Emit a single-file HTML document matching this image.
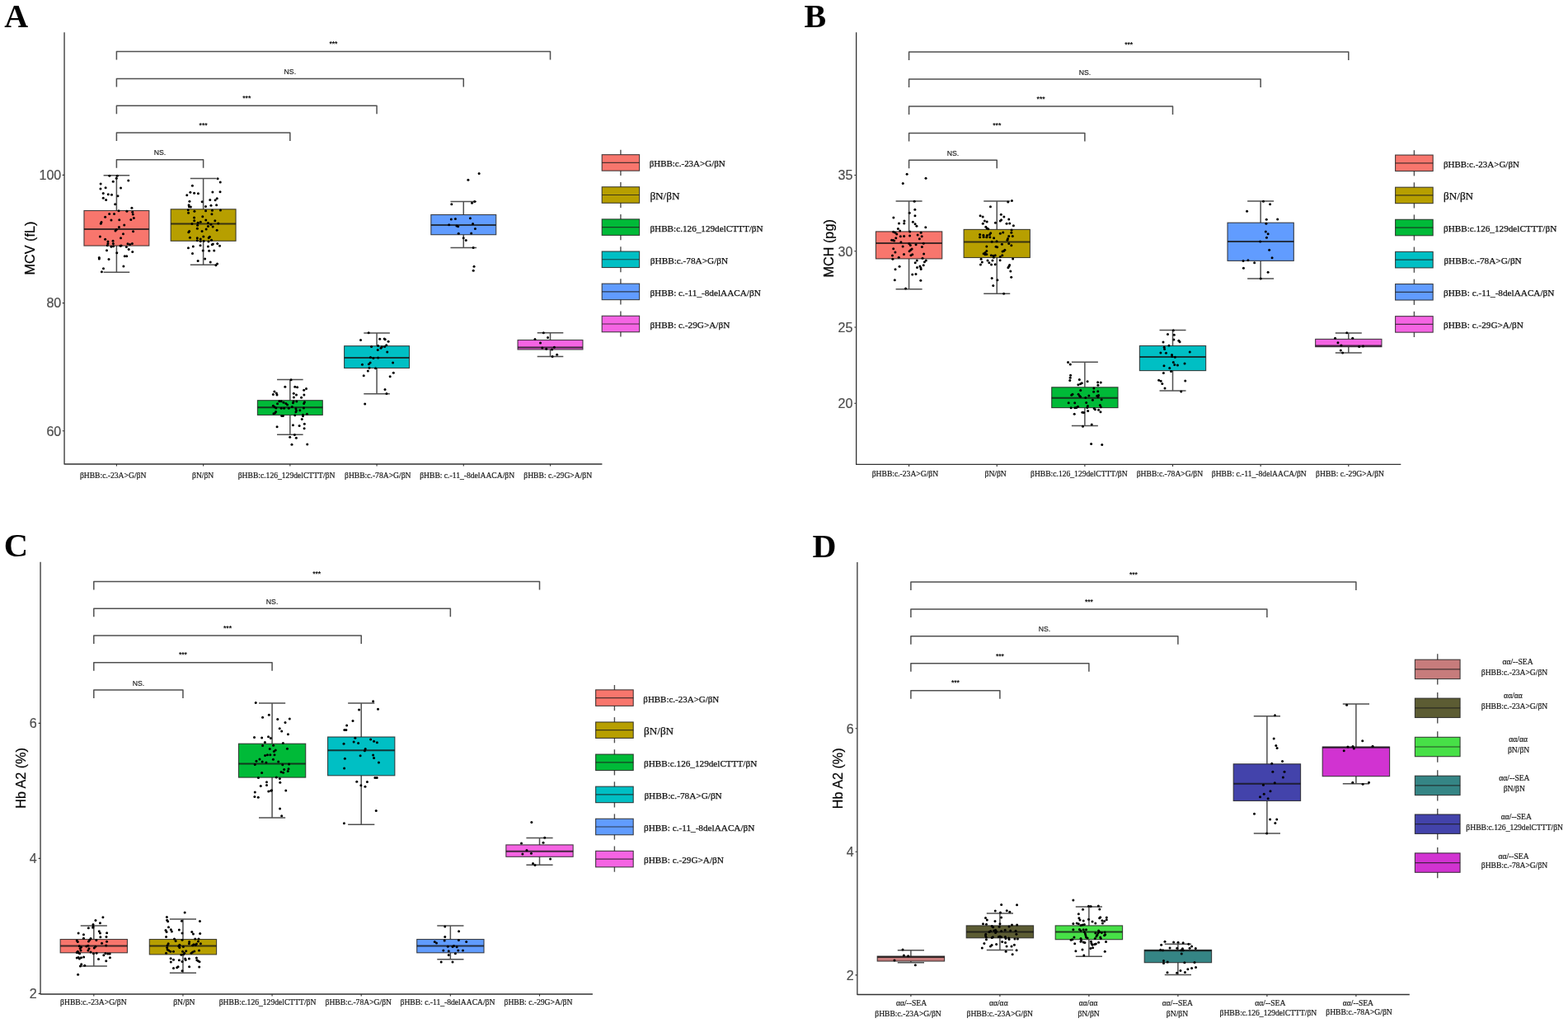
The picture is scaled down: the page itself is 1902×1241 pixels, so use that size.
<!DOCTYPE html>
<html lang="en">
<head>
<meta charset="utf-8">
<title>Figure: MCV, MCH and Hb A2 by genotype</title>
<style>
html,body{margin:0;padding:0;background:#fff}
body{width:1902px;height:1241px}
svg{display:block}
.ser{font-family:"Liberation Serif","DejaVu Serif",serif}
.san{font-family:"Liberation Sans","DejaVu Sans",sans-serif}
</style>
</head>
<body>
<svg width="1902" height="1241" viewBox="0 0 1902 1241" role="img" aria-label="Box plots of MCV, MCH and Hb A2 across genotypes">
<rect width="1902" height="1241" fill="#fff"/>
<path d="M78.05 39.2V563H730.4" stroke="#333333" stroke-width="1.3" stroke-linejoin="round" fill="none"/>
<text x="74.3" y="218.2" class="san" font-size="16.1" text-anchor="end" fill="#4d4d4d" stroke="#4d4d4d" stroke-width="0.2">100</text>
<text x="74.3" y="373.4" class="san" font-size="16.1" text-anchor="end" fill="#4d4d4d" stroke="#4d4d4d" stroke-width="0.2">80</text>
<text x="74.3" y="528.5" class="san" font-size="16.1" text-anchor="end" fill="#4d4d4d" stroke="#4d4d4d" stroke-width="0.2">60</text>
<path d="M75.65 212.4H78.05M75.65 367.6H78.05M75.65 522.7H78.05M141.4 563V565.6M246.62 563V565.6M351.84 563V565.6M457.06 563V565.6M562.28 563V565.6M667.5 563V565.6" stroke="#333333" stroke-width="1.1" fill="none"/>
<text transform="translate(42.3 301.1) rotate(-90)" class="san" font-size="16.2" text-anchor="middle" fill="#000" stroke="#000" stroke-width="0.2">MCV (fL)</text>
<text x="5.3" y="32.7" class="ser" font-size="40" text-anchor="start" font-weight="bold" fill="#000">A</text>
<path d="M141.4 212.7V255.5M141.4 298.1V330.2M125.6 212.7H157.2M125.6 330.2H157.2" stroke="#505050" stroke-width="1.5" fill="none"/>
<rect x="101.95" y="255.5" width="78.9" height="42.6" fill="#F8766D" stroke="#1e1e1e" stroke-opacity="0.82" stroke-width="1.1"/>
<path d="M101.95 278.1H180.85" stroke="#161616" stroke-opacity="0.8" stroke-width="2" fill="none"/>
<path d="M246.62 216.5V253.8M246.62 292.3V321.3M230.82 216.5H262.42M230.82 321.3H262.42" stroke="#505050" stroke-width="1.5" fill="none"/>
<rect x="207.17" y="253.8" width="78.9" height="38.5" fill="#B79F00" stroke="#1e1e1e" stroke-opacity="0.82" stroke-width="1.1"/>
<path d="M207.17 271.6H286.07" stroke="#161616" stroke-opacity="0.8" stroke-width="2" fill="none"/>
<path d="M351.84 460.5V485.7M351.84 503.5V527.2M336.04 460.5H367.64M336.04 527.2H367.64" stroke="#505050" stroke-width="1.5" fill="none"/>
<rect x="312.39" y="485.7" width="78.9" height="17.8" fill="#00BA38" stroke="#1e1e1e" stroke-opacity="0.82" stroke-width="1.1"/>
<path d="M312.39 494.2H391.29" stroke="#161616" stroke-opacity="0.8" stroke-width="2" fill="none"/>
<path d="M457.06 403.9V419.7M457.06 446.5V477.7M441.26 403.9H472.86M441.26 477.7H472.86" stroke="#505050" stroke-width="1.5" fill="none"/>
<rect x="417.61" y="419.7" width="78.9" height="26.8" fill="#00BFC4" stroke="#1e1e1e" stroke-opacity="0.82" stroke-width="1.1"/>
<path d="M417.61 433.9H496.51" stroke="#161616" stroke-opacity="0.8" stroke-width="2" fill="none"/>
<path d="M562.28 244.5V260.5M562.28 284.7V300.4M546.48 244.5H578.08M546.48 300.4H578.08" stroke="#505050" stroke-width="1.5" fill="none"/>
<rect x="522.83" y="260.5" width="78.9" height="24.2" fill="#619CFF" stroke="#1e1e1e" stroke-opacity="0.82" stroke-width="1.1"/>
<path d="M522.83 273H601.73" stroke="#161616" stroke-opacity="0.8" stroke-width="2" fill="none"/>
<path d="M667.5 403.8V412.5M667.5 424V432.5M651.7 403.8H683.3M651.7 432.5H683.3" stroke="#505050" stroke-width="1.5" fill="none"/>
<rect x="628.05" y="412.5" width="78.9" height="11.5" fill="#F564E3" stroke="#1e1e1e" stroke-opacity="0.82" stroke-width="1.1"/>
<path d="M628.05 421.5H706.95" stroke="#161616" stroke-opacity="0.8" stroke-width="2" fill="none"/>
<g fill="#000"><circle cx="132.85" cy="213.36" r="1.5"/><circle cx="142.32" cy="213.15" r="1.5"/><circle cx="141.27" cy="216.3" r="1.5"/><circle cx="155.78" cy="219.04" r="1.5"/><circle cx="137.27" cy="220.2" r="1.5"/><circle cx="122.13" cy="222.93" r="1.5"/><circle cx="128.12" cy="227.77" r="1.5"/><circle cx="146.52" cy="227.98" r="1.5"/><circle cx="121.92" cy="229.03" r="1.5"/><circle cx="125.28" cy="234.39" r="1.5"/><circle cx="131.28" cy="235.86" r="1.5"/><circle cx="135.48" cy="236.28" r="1.5"/><circle cx="142.95" cy="237.65" r="1.5"/><circle cx="125.28" cy="240.17" r="1.5"/><circle cx="128.65" cy="242.49" r="1.5"/><circle cx="139.69" cy="247.85" r="1.5"/><circle cx="159.88" cy="252.27" r="1.5"/><circle cx="144" cy="255.63" r="1.5"/><circle cx="153.89" cy="256.26" r="1.5"/><circle cx="160.72" cy="257.31" r="1.5"/><circle cx="161.25" cy="259.94" r="1.5"/><circle cx="132.64" cy="259.52" r="1.5"/><circle cx="138.53" cy="259.52" r="1.5"/><circle cx="127.6" cy="263.2" r="1.5"/><circle cx="162.3" cy="264.57" r="1.5"/><circle cx="158.83" cy="266.46" r="1.5"/><circle cx="134.96" cy="266.99" r="1.5"/><circle cx="144.74" cy="266.67" r="1.5"/><circle cx="122.97" cy="269.51" r="1.5"/><circle cx="122.34" cy="271.19" r="1.5"/><circle cx="150.73" cy="272.88" r="1.5"/><circle cx="144.42" cy="275.4" r="1.5"/><circle cx="141.27" cy="278.56" r="1.5"/><circle cx="140.01" cy="279.92" r="1.5"/><circle cx="161.56" cy="280.87" r="1.5"/><circle cx="149.47" cy="283.71" r="1.5"/><circle cx="121.39" cy="286.97" r="1.5"/><circle cx="146.52" cy="288.86" r="1.5"/><circle cx="127.6" cy="290.23" r="1.5"/><circle cx="130.96" cy="292.96" r="1.5"/><circle cx="137.06" cy="292.23" r="1.5"/><circle cx="130.96" cy="295.38" r="1.5"/><circle cx="137.38" cy="295.59" r="1.5"/><circle cx="154.94" cy="295.8" r="1.5"/><circle cx="157.57" cy="296.43" r="1.5"/><circle cx="160.4" cy="295.48" r="1.5"/><circle cx="130.23" cy="297.69" r="1.5"/><circle cx="134.96" cy="299.17" r="1.5"/><circle cx="137.59" cy="298.74" r="1.5"/><circle cx="146" cy="298.32" r="1.5"/><circle cx="147.05" cy="298.11" r="1.5"/><circle cx="153.36" cy="299.38" r="1.5"/><circle cx="156.2" cy="302.53" r="1.5"/><circle cx="129.49" cy="303.79" r="1.5"/><circle cx="160.72" cy="305.58" r="1.5"/><circle cx="141.79" cy="306.74" r="1.5"/><circle cx="151.26" cy="310.63" r="1.5"/><circle cx="153.68" cy="310.63" r="1.5"/><circle cx="120.34" cy="312.52" r="1.5"/><circle cx="120.34" cy="314.1" r="1.5"/><circle cx="132.01" cy="314.62" r="1.5"/><circle cx="149.89" cy="323.03" r="1.5"/><circle cx="125.49" cy="325.87" r="1.5"/><circle cx="123.39" cy="329.87" r="1.5"/></g>
<g fill="#000"><circle cx="264.09" cy="216.83" r="1.5"/><circle cx="267.24" cy="220.93" r="1.5"/><circle cx="233.38" cy="225.35" r="1.5"/><circle cx="230.86" cy="233.13" r="1.5"/><circle cx="235.59" cy="234.18" r="1.5"/><circle cx="240.43" cy="234.71" r="1.5"/><circle cx="257.88" cy="233.02" r="1.5"/><circle cx="267.03" cy="232.81" r="1.5"/><circle cx="226.76" cy="236.81" r="1.5"/><circle cx="263.24" cy="240.7" r="1.5"/><circle cx="261.14" cy="242.7" r="1.5"/><circle cx="254.73" cy="242.38" r="1.5"/><circle cx="229.91" cy="244.28" r="1.5"/><circle cx="245.16" cy="244.8" r="1.5"/><circle cx="229.07" cy="248.8" r="1.5"/><circle cx="229.38" cy="250.69" r="1.5"/><circle cx="231.38" cy="251.01" r="1.5"/><circle cx="249.47" cy="250.58" r="1.5"/><circle cx="255.99" cy="249.22" r="1.5"/><circle cx="262.61" cy="248.8" r="1.5"/><circle cx="228.23" cy="254.79" r="1.5"/><circle cx="235.9" cy="256.26" r="1.5"/><circle cx="249.57" cy="255.84" r="1.5"/><circle cx="257.46" cy="255.21" r="1.5"/><circle cx="267.45" cy="255.11" r="1.5"/><circle cx="228.54" cy="258.26" r="1.5"/><circle cx="256.93" cy="259.63" r="1.5"/><circle cx="245.79" cy="262.78" r="1.5"/><circle cx="235.59" cy="264.04" r="1.5"/><circle cx="249.78" cy="266.88" r="1.5"/><circle cx="260.83" cy="267.72" r="1.5"/><circle cx="235.69" cy="267.83" r="1.5"/><circle cx="243.26" cy="269.3" r="1.5"/><circle cx="240.11" cy="270.14" r="1.5"/><circle cx="232.96" cy="271.51" r="1.5"/><circle cx="252.41" cy="270.56" r="1.5"/><circle cx="264.82" cy="270.98" r="1.5"/><circle cx="255.88" cy="272.25" r="1.5"/><circle cx="239.58" cy="273.3" r="1.5"/><circle cx="252.41" cy="274.56" r="1.5"/><circle cx="258.2" cy="275.09" r="1.5"/><circle cx="239.37" cy="277.19" r="1.5"/><circle cx="250.1" cy="277.92" r="1.5"/><circle cx="263.14" cy="279.29" r="1.5"/><circle cx="229.6" cy="280.45" r="1.5"/><circle cx="228.75" cy="281.71" r="1.5"/><circle cx="245.05" cy="280.55" r="1.5"/><circle cx="246.84" cy="287.07" r="1.5"/><circle cx="239.27" cy="288.65" r="1.5"/><circle cx="230.44" cy="288.23" r="1.5"/><circle cx="254.31" cy="287.18" r="1.5"/><circle cx="253.25" cy="288.54" r="1.5"/><circle cx="239.27" cy="291.7" r="1.5"/><circle cx="243.26" cy="290.12" r="1.5"/><circle cx="256.51" cy="291.17" r="1.5"/><circle cx="243.26" cy="292.86" r="1.5"/><circle cx="247.16" cy="292.54" r="1.5"/><circle cx="252.94" cy="293.07" r="1.5"/><circle cx="263.77" cy="295.38" r="1.5"/><circle cx="258.3" cy="295.91" r="1.5"/><circle cx="257.25" cy="296.75" r="1.5"/><circle cx="243.05" cy="297.69" r="1.5"/><circle cx="266.5" cy="298.32" r="1.5"/><circle cx="234.33" cy="299.06" r="1.5"/><circle cx="252.41" cy="299.06" r="1.5"/><circle cx="228.44" cy="300.74" r="1.5"/><circle cx="246.21" cy="304" r="1.5"/><circle cx="253.68" cy="304.32" r="1.5"/><circle cx="259.77" cy="304" r="1.5"/><circle cx="233.49" cy="307.58" r="1.5"/><circle cx="248.63" cy="313.89" r="1.5"/><circle cx="240.11" cy="316.62" r="1.5"/><circle cx="255.25" cy="318.09" r="1.5"/><circle cx="263.56" cy="319.88" r="1.5"/><circle cx="261.88" cy="321.67" r="1.5"/></g>
<g fill="#000"><circle cx="353.05" cy="460.75" r="1.5"/><circle cx="345.83" cy="469.23" r="1.5"/><circle cx="357.75" cy="469.34" r="1.5"/><circle cx="360.61" cy="469.8" r="1.5"/><circle cx="371.5" cy="471.41" r="1.5"/><circle cx="368.64" cy="473.13" r="1.5"/><circle cx="332.87" cy="475.07" r="1.5"/><circle cx="331.38" cy="478.4" r="1.5"/><circle cx="335.4" cy="477.02" r="1.5"/><circle cx="335.97" cy="479.09" r="1.5"/><circle cx="356.26" cy="477.37" r="1.5"/><circle cx="359.47" cy="479.09" r="1.5"/><circle cx="368.86" cy="479.09" r="1.5"/><circle cx="356.37" cy="482.07" r="1.5"/><circle cx="365.54" cy="482.18" r="1.5"/><circle cx="338.83" cy="486.76" r="1.5"/><circle cx="341.13" cy="486.76" r="1.5"/><circle cx="343.99" cy="488.25" r="1.5"/><circle cx="336.54" cy="489.63" r="1.5"/><circle cx="346.86" cy="489.4" r="1.5"/><circle cx="348.58" cy="490.89" r="1.5"/><circle cx="356.03" cy="487.11" r="1.5"/><circle cx="359.81" cy="487.11" r="1.5"/><circle cx="355.45" cy="488.83" r="1.5"/><circle cx="369.44" cy="487.68" r="1.5"/><circle cx="368.64" cy="489.4" r="1.5"/><circle cx="331.38" cy="492.27" r="1.5"/><circle cx="333.1" cy="493.76" r="1.5"/><circle cx="334.82" cy="494.9" r="1.5"/><circle cx="341.13" cy="495.36" r="1.5"/><circle cx="344.57" cy="495.13" r="1.5"/><circle cx="350.3" cy="495.13" r="1.5"/><circle cx="354.31" cy="493.41" r="1.5"/><circle cx="358.89" cy="495.7" r="1.5"/><circle cx="368.41" cy="494.9" r="1.5"/><circle cx="359.47" cy="498" r="1.5"/><circle cx="363.82" cy="497.77" r="1.5"/><circle cx="358.89" cy="499.72" r="1.5"/><circle cx="334.59" cy="499.49" r="1.5"/><circle cx="333.68" cy="501.09" r="1.5"/><circle cx="331.96" cy="501.78" r="1.5"/><circle cx="357.75" cy="503.73" r="1.5"/><circle cx="341.7" cy="504.53" r="1.5"/><circle cx="343.42" cy="504.53" r="1.5"/><circle cx="367.49" cy="503.15" r="1.5"/><circle cx="367.49" cy="504.87" r="1.5"/><circle cx="372.42" cy="502.24" r="1.5"/><circle cx="366.23" cy="508.43" r="1.5"/><circle cx="369.32" cy="514.27" r="1.5"/><circle cx="355.45" cy="515.76" r="1.5"/><circle cx="363.13" cy="516.45" r="1.5"/><circle cx="336.08" cy="517.83" r="1.5"/><circle cx="369.09" cy="519.66" r="1.5"/><circle cx="357.4" cy="527.45" r="1.5"/><circle cx="351.67" cy="530.2" r="1.5"/><circle cx="359.35" cy="531.35" r="1.5"/><circle cx="353.96" cy="539.26" r="1.5"/><circle cx="372.76" cy="539.03" r="1.5"/></g>
<g fill="#000"><circle cx="447.15" cy="403.67" r="1.5"/><circle cx="437.52" cy="412.49" r="1.5"/><circle cx="460.67" cy="411.35" r="1.5"/><circle cx="466.17" cy="411.12" r="1.5"/><circle cx="467.21" cy="411.81" r="1.5"/><circle cx="471.1" cy="414.21" r="1.5"/><circle cx="450.59" cy="420.52" r="1.5"/><circle cx="458.61" cy="419.48" r="1.5"/><circle cx="468.7" cy="418.68" r="1.5"/><circle cx="466.63" cy="420.4" r="1.5"/><circle cx="463.19" cy="420.86" r="1.5"/><circle cx="462.05" cy="422.35" r="1.5"/><circle cx="458.26" cy="424.41" r="1.5"/><circle cx="469.73" cy="427.05" r="1.5"/><circle cx="449.44" cy="433.47" r="1.5"/><circle cx="452.88" cy="434.38" r="1.5"/><circle cx="458.61" cy="433.93" r="1.5"/><circle cx="476.6" cy="439.89" r="1.5"/><circle cx="449.1" cy="440.12" r="1.5"/><circle cx="447.38" cy="441.83" r="1.5"/><circle cx="439.47" cy="442.29" r="1.5"/><circle cx="447.95" cy="446.3" r="1.5"/><circle cx="455.51" cy="446.65" r="1.5"/><circle cx="446.34" cy="449.97" r="1.5"/><circle cx="477.29" cy="452.15" r="1.5"/><circle cx="441.19" cy="455.82" r="1.5"/><circle cx="473.17" cy="456.74" r="1.5"/><circle cx="466.98" cy="472.44" r="1.5"/><circle cx="468.92" cy="477.6" r="1.5"/><circle cx="442.68" cy="489.97" r="1.5"/></g>
<g fill="#000"><circle cx="581.15" cy="210.62" r="1.5"/><circle cx="567.9" cy="218.3" r="1.5"/><circle cx="575.68" cy="244.38" r="1.5"/><circle cx="572.52" cy="246.16" r="1.5"/><circle cx="547.81" cy="247.64" r="1.5"/><circle cx="547.29" cy="265.93" r="1.5"/><circle cx="552.44" cy="265.41" r="1.5"/><circle cx="570.42" cy="264.67" r="1.5"/><circle cx="573.58" cy="271.61" r="1.5"/><circle cx="544.66" cy="272.66" r="1.5"/><circle cx="553.91" cy="274.03" r="1.5"/><circle cx="555.7" cy="274.77" r="1.5"/><circle cx="576.41" cy="277.39" r="1.5"/><circle cx="556.23" cy="283.28" r="1.5"/><circle cx="571.68" cy="282.97" r="1.5"/><circle cx="562.22" cy="288.75" r="1.5"/><circle cx="565.27" cy="291.59" r="1.5"/><circle cx="574.1" cy="300.53" r="1.5"/><circle cx="575.05" cy="323.35" r="1.5"/><circle cx="574.21" cy="328.18" r="1.5"/></g>
<g fill="#000"><circle cx="659.31" cy="403.78" r="1.5"/><circle cx="664.5" cy="409.6" r="1.5"/><circle cx="648.94" cy="411.38" r="1.5"/><circle cx="655.52" cy="416.06" r="1.5"/><circle cx="657.8" cy="421.88" r="1.5"/><circle cx="662.73" cy="423.14" r="1.5"/><circle cx="669.56" cy="423.9" r="1.5"/><circle cx="672.35" cy="421.24" r="1.5"/><circle cx="675.64" cy="430.23" r="1.5"/><circle cx="670.07" cy="432.5" r="1.5"/></g>
<path d="M141.4 203.8V193.8H246.62V203.8" stroke="#505050" stroke-width="1.5" stroke-linejoin="round" fill="none"/>
<text x="194.01" y="188.3" class="san" font-size="8.7" text-anchor="middle" fill="#1a1a1a" stroke="#1a1a1a" stroke-width="0.15">NS.</text>
<path d="M141.4 171V161H351.84V171" stroke="#505050" stroke-width="1.5" stroke-linejoin="round" fill="none"/>
<text x="246.62" y="154.7" class="san" font-size="8.6" text-anchor="middle" font-weight="bold" fill="#111">***</text>
<path d="M141.4 138.3V128.3H457.06V138.3" stroke="#505050" stroke-width="1.5" stroke-linejoin="round" fill="none"/>
<text x="299.23" y="122" class="san" font-size="8.6" text-anchor="middle" font-weight="bold" fill="#111">***</text>
<path d="M141.4 105.5V95.5H562.28V105.5" stroke="#505050" stroke-width="1.5" stroke-linejoin="round" fill="none"/>
<text x="351.84" y="90" class="san" font-size="8.7" text-anchor="middle" fill="#1a1a1a" stroke="#1a1a1a" stroke-width="0.15">NS.</text>
<path d="M141.4 72.6V62.6H667.5V72.6" stroke="#505050" stroke-width="1.5" stroke-linejoin="round" fill="none"/>
<text x="404.45" y="56.3" class="san" font-size="8.6" text-anchor="middle" font-weight="bold" fill="#111">***</text>
<text x="96.9" y="580.2" class="ser" font-size="9.6" text-anchor="start" fill="#1c1c1c" stroke="#1c1c1c" stroke-width="0.22">βHBB:c.-23A&gt;G/βN</text>
<text x="233" y="580.2" class="ser" font-size="9.6" text-anchor="start" fill="#1c1c1c" stroke="#1c1c1c" stroke-width="0.22">βN/βN</text>
<text x="288.7" y="580.2" class="ser" font-size="9.6" text-anchor="start" fill="#1c1c1c" stroke="#1c1c1c" stroke-width="0.22">βHBB:c.126_129delCTTT/βN</text>
<text x="418" y="580.2" class="ser" font-size="9.6" text-anchor="start" fill="#1c1c1c" stroke="#1c1c1c" stroke-width="0.22">βHBB:c.-78A&gt;G/βN</text>
<text x="509.2" y="580.2" class="ser" font-size="9.6" text-anchor="start" fill="#1c1c1c" stroke="#1c1c1c" stroke-width="0.22">βHBB: c.-11_-8delAACA/βN</text>
<text x="635.3" y="580.2" class="ser" font-size="9.6" text-anchor="start" fill="#1c1c1c" stroke="#1c1c1c" stroke-width="0.22">βHBB: c.-29G&gt;A/βN</text>
<path d="M752.9 181.8V213" stroke="#505050" stroke-width="1.4" fill="none"/>
<rect x="730.2" y="187.65" width="45.4" height="19.5" fill="#F8766D" stroke="#1e1e1e" stroke-opacity="0.82" stroke-width="1.1"/>
<path d="M730.2 197.4H775.6" stroke="#1e1e1e" stroke-opacity="0.78" stroke-width="1.2" fill="none"/>
<text x="787.7" y="202.4" class="ser" font-size="10.97" text-anchor="start" fill="#111" stroke="#111" stroke-width="0.25">βHBB:c.-23A&gt;G/βN</text>
<path d="M752.9 220.92V252.12" stroke="#505050" stroke-width="1.4" fill="none"/>
<rect x="730.2" y="226.77" width="45.4" height="19.5" fill="#B79F00" stroke="#1e1e1e" stroke-opacity="0.82" stroke-width="1.1"/>
<path d="M730.2 236.52H775.6" stroke="#1e1e1e" stroke-opacity="0.78" stroke-width="1.2" fill="none"/>
<text x="788.4" y="241.52" class="ser" font-size="13.2" text-anchor="start" fill="#111" stroke="#111" stroke-width="0.25">βN/βN</text>
<path d="M752.9 260.04V291.24" stroke="#505050" stroke-width="1.4" fill="none"/>
<rect x="730.2" y="265.89" width="45.4" height="19.5" fill="#00BA38" stroke="#1e1e1e" stroke-opacity="0.82" stroke-width="1.1"/>
<path d="M730.2 275.64H775.6" stroke="#1e1e1e" stroke-opacity="0.78" stroke-width="1.2" fill="none"/>
<text x="788.4" y="280.64" class="ser" font-size="11.2" text-anchor="start" fill="#111" stroke="#111" stroke-width="0.25">βHBB:c.126_129delCTTT/βN</text>
<path d="M752.9 299.16V330.36" stroke="#505050" stroke-width="1.4" fill="none"/>
<rect x="730.2" y="305.01" width="45.4" height="19.5" fill="#00BFC4" stroke="#1e1e1e" stroke-opacity="0.82" stroke-width="1.1"/>
<path d="M730.2 314.76H775.6" stroke="#1e1e1e" stroke-opacity="0.78" stroke-width="1.2" fill="none"/>
<text x="788.8" y="319.76" class="ser" font-size="11.25" text-anchor="start" fill="#111" stroke="#111" stroke-width="0.25">βHBB:c.-78A&gt;G/βN</text>
<path d="M752.9 338.28V369.48" stroke="#505050" stroke-width="1.4" fill="none"/>
<rect x="730.2" y="344.13" width="45.4" height="19.5" fill="#619CFF" stroke="#1e1e1e" stroke-opacity="0.82" stroke-width="1.1"/>
<path d="M730.2 353.88H775.6" stroke="#1e1e1e" stroke-opacity="0.78" stroke-width="1.2" fill="none"/>
<text x="788.4" y="358.88" class="ser" font-size="11.22" text-anchor="start" fill="#111" stroke="#111" stroke-width="0.25">βHBB: c.-11_-8delAACA/βN</text>
<path d="M752.9 377.4V408.6" stroke="#505050" stroke-width="1.4" fill="none"/>
<rect x="730.2" y="383.25" width="45.4" height="19.5" fill="#F564E3" stroke="#1e1e1e" stroke-opacity="0.82" stroke-width="1.1"/>
<path d="M730.2 393H775.6" stroke="#1e1e1e" stroke-opacity="0.78" stroke-width="1.2" fill="none"/>
<text x="788.4" y="398" class="ser" font-size="11.23" text-anchor="start" fill="#111" stroke="#111" stroke-width="0.25">βHBB: c.-29G&gt;A/βN</text>
<path d="M1038.65 39.2V563.4H1699.3" stroke="#333333" stroke-width="1.3" stroke-linejoin="round" fill="none"/>
<text x="1034.35" y="218.3" class="san" font-size="16.1" text-anchor="end" fill="#4d4d4d" stroke="#4d4d4d" stroke-width="0.2">35</text>
<text x="1034.35" y="310.5" class="san" font-size="16.1" text-anchor="end" fill="#4d4d4d" stroke="#4d4d4d" stroke-width="0.2">30</text>
<text x="1034.35" y="402.8" class="san" font-size="16.1" text-anchor="end" fill="#4d4d4d" stroke="#4d4d4d" stroke-width="0.2">25</text>
<text x="1034.35" y="495.1" class="san" font-size="16.1" text-anchor="end" fill="#4d4d4d" stroke="#4d4d4d" stroke-width="0.2">20</text>
<path d="M1036.25 212.5H1038.65M1036.25 304.7H1038.65M1036.25 397H1038.65M1036.25 489.3H1038.65M1102.6 563.4V566M1209.24 563.4V566M1315.88 563.4V566M1422.52 563.4V566M1529.16 563.4V566M1635.8 563.4V566" stroke="#333333" stroke-width="1.1" fill="none"/>
<text transform="translate(1011.4 301.3) rotate(-90)" class="san" font-size="16.2" text-anchor="middle" fill="#000" stroke="#000" stroke-width="0.2">MCH (pg)</text>
<text x="975.6" y="33.2" class="ser" font-size="40" text-anchor="start" font-weight="bold" fill="#000">B</text>
<path d="M1102.6 244V280.9M1102.6 313.9V350.8M1086.6 244H1118.6M1086.6 350.8H1118.6" stroke="#505050" stroke-width="1.5" fill="none"/>
<rect x="1062.45" y="280.9" width="80.3" height="33" fill="#F8766D" stroke="#1e1e1e" stroke-opacity="0.82" stroke-width="1.1"/>
<path d="M1062.45 295.1H1142.75" stroke="#161616" stroke-opacity="0.8" stroke-width="2" fill="none"/>
<path d="M1209.24 244V278.4M1209.24 312.5V356.3M1193.24 244H1225.24M1193.24 356.3H1225.24" stroke="#505050" stroke-width="1.5" fill="none"/>
<rect x="1169.09" y="278.4" width="80.3" height="34.1" fill="#B79F00" stroke="#1e1e1e" stroke-opacity="0.82" stroke-width="1.1"/>
<path d="M1169.09 293.4H1249.39" stroke="#161616" stroke-opacity="0.8" stroke-width="2" fill="none"/>
<path d="M1315.88 439.3V469.8M1315.88 494.6V516.4M1299.88 439.3H1331.88M1299.88 516.4H1331.88" stroke="#505050" stroke-width="1.5" fill="none"/>
<rect x="1275.73" y="469.8" width="80.3" height="24.8" fill="#00BA38" stroke="#1e1e1e" stroke-opacity="0.82" stroke-width="1.1"/>
<path d="M1275.73 482.7H1356.03" stroke="#161616" stroke-opacity="0.8" stroke-width="2" fill="none"/>
<path d="M1422.52 400.6V419.5M1422.52 449.6V474.1M1406.52 400.6H1438.52M1406.52 474.1H1438.52" stroke="#505050" stroke-width="1.5" fill="none"/>
<rect x="1382.37" y="419.5" width="80.3" height="30.1" fill="#00BFC4" stroke="#1e1e1e" stroke-opacity="0.82" stroke-width="1.1"/>
<path d="M1382.37 432.9H1462.67" stroke="#161616" stroke-opacity="0.8" stroke-width="2" fill="none"/>
<path d="M1529.16 244.1V270.2M1529.16 316.4V338M1513.16 244.1H1545.16M1513.16 338H1545.16" stroke="#505050" stroke-width="1.5" fill="none"/>
<rect x="1489.01" y="270.2" width="80.3" height="46.2" fill="#619CFF" stroke="#1e1e1e" stroke-opacity="0.82" stroke-width="1.1"/>
<path d="M1489.01 292.9H1569.31" stroke="#161616" stroke-opacity="0.8" stroke-width="2" fill="none"/>
<path d="M1635.8 404.1V411.4M1635.8 420.7V428.1M1619.8 404.1H1651.8M1619.8 428.1H1651.8" stroke="#505050" stroke-width="1.5" fill="none"/>
<rect x="1595.65" y="411.4" width="80.3" height="9.3" fill="#F564E3" stroke="#1e1e1e" stroke-opacity="0.82" stroke-width="1.1"/>
<path d="M1595.65 419.4H1675.95" stroke="#161616" stroke-opacity="0.8" stroke-width="2" fill="none"/>
<g fill="#000"><circle cx="1100.15" cy="211.31" r="1.5"/><circle cx="1123.06" cy="216.33" r="1.5"/><circle cx="1095.25" cy="222.46" r="1.5"/><circle cx="1109.21" cy="244.26" r="1.5"/><circle cx="1109.83" cy="254.31" r="1.5"/><circle cx="1103.21" cy="258.23" r="1.5"/><circle cx="1109.95" cy="261.78" r="1.5"/><circle cx="1083.86" cy="264.11" r="1.5"/><circle cx="1096.96" cy="268.03" r="1.5"/><circle cx="1096.72" cy="271.09" r="1.5"/><circle cx="1090.47" cy="270.97" r="1.5"/><circle cx="1107.38" cy="269.25" r="1.5"/><circle cx="1110.07" cy="271.7" r="1.5"/><circle cx="1111.91" cy="274.15" r="1.5"/><circle cx="1122.81" cy="275.74" r="1.5"/><circle cx="1089.37" cy="277.46" r="1.5"/><circle cx="1091.7" cy="279.91" r="1.5"/><circle cx="1103.7" cy="280.89" r="1.5"/><circle cx="1083.73" cy="281.13" r="1.5"/><circle cx="1085.94" cy="282.36" r="1.5"/><circle cx="1087.78" cy="283.95" r="1.5"/><circle cx="1117.18" cy="282.36" r="1.5"/><circle cx="1113.13" cy="284.93" r="1.5"/><circle cx="1092.31" cy="286.65" r="1.5"/><circle cx="1096.6" cy="286.4" r="1.5"/><circle cx="1103.58" cy="286.03" r="1.5"/><circle cx="1118.16" cy="286.77" r="1.5"/><circle cx="1086.8" cy="288.85" r="1.5"/><circle cx="1115.34" cy="289.71" r="1.5"/><circle cx="1081.65" cy="291.3" r="1.5"/><circle cx="1083.49" cy="291.55" r="1.5"/><circle cx="1084.71" cy="291.91" r="1.5"/><circle cx="1092.92" cy="293.75" r="1.5"/><circle cx="1120.24" cy="295.34" r="1.5"/><circle cx="1102.72" cy="295.59" r="1.5"/><circle cx="1104.31" cy="297.43" r="1.5"/><circle cx="1111.05" cy="296.69" r="1.5"/><circle cx="1095.13" cy="298.9" r="1.5"/><circle cx="1118.4" cy="299.51" r="1.5"/><circle cx="1083.73" cy="301.71" r="1.5"/><circle cx="1106.15" cy="301.96" r="1.5"/><circle cx="1104.68" cy="303.31" r="1.5"/><circle cx="1103.09" cy="304.78" r="1.5"/><circle cx="1085.94" cy="306" r="1.5"/><circle cx="1120.61" cy="307.96" r="1.5"/><circle cx="1096.47" cy="308.45" r="1.5"/><circle cx="1106.76" cy="308.7" r="1.5"/><circle cx="1104.93" cy="309.68" r="1.5"/><circle cx="1082.51" cy="309.92" r="1.5"/><circle cx="1090.23" cy="312.13" r="1.5"/><circle cx="1119.01" cy="313.35" r="1.5"/><circle cx="1082.88" cy="314.33" r="1.5"/><circle cx="1112.28" cy="316.05" r="1.5"/><circle cx="1123.3" cy="316.05" r="1.5"/><circle cx="1121.46" cy="317.64" r="1.5"/><circle cx="1110.19" cy="318.86" r="1.5"/><circle cx="1120.24" cy="321.68" r="1.5"/><circle cx="1091.08" cy="323.15" r="1.5"/><circle cx="1115.95" cy="322.91" r="1.5"/><circle cx="1112.52" cy="324.38" r="1.5"/><circle cx="1116.93" cy="324.75" r="1.5"/><circle cx="1117.18" cy="326.46" r="1.5"/><circle cx="1086.06" cy="326.83" r="1.5"/><circle cx="1106.76" cy="332.95" r="1.5"/><circle cx="1110.93" cy="332.46" r="1.5"/><circle cx="1085.33" cy="339.69" r="1.5"/><circle cx="1116.81" cy="340.3" r="1.5"/><circle cx="1098.56" cy="350.1" r="1.5"/></g>
<g fill="#000"><circle cx="1227.43" cy="243.53" r="1.5"/><circle cx="1222.77" cy="245" r="1.5"/><circle cx="1201.46" cy="250.63" r="1.5"/><circle cx="1214.32" cy="260.31" r="1.5"/><circle cx="1189.09" cy="261.66" r="1.5"/><circle cx="1192.15" cy="262.88" r="1.5"/><circle cx="1217.87" cy="262.88" r="1.5"/><circle cx="1223.75" cy="265.94" r="1.5"/><circle cx="1194.35" cy="268.03" r="1.5"/><circle cx="1197.17" cy="268.88" r="1.5"/><circle cx="1214.57" cy="266.8" r="1.5"/><circle cx="1213.34" cy="268.03" r="1.5"/><circle cx="1207.46" cy="270.23" r="1.5"/><circle cx="1192.27" cy="271.33" r="1.5"/><circle cx="1221.06" cy="271.21" r="1.5"/><circle cx="1224.73" cy="270.97" r="1.5"/><circle cx="1229.39" cy="273.66" r="1.5"/><circle cx="1195.82" cy="275.13" r="1.5"/><circle cx="1197.17" cy="276.97" r="1.5"/><circle cx="1198.76" cy="277.83" r="1.5"/><circle cx="1227.06" cy="279.05" r="1.5"/><circle cx="1216.77" cy="281.99" r="1.5"/><circle cx="1213.34" cy="283.22" r="1.5"/><circle cx="1201.7" cy="282.73" r="1.5"/><circle cx="1226.82" cy="282.36" r="1.5"/><circle cx="1188.6" cy="284.56" r="1.5"/><circle cx="1192.88" cy="285.18" r="1.5"/><circle cx="1197.42" cy="285.42" r="1.5"/><circle cx="1200.48" cy="284.56" r="1.5"/><circle cx="1223.75" cy="286.4" r="1.5"/><circle cx="1228.29" cy="286.4" r="1.5"/><circle cx="1188.6" cy="287.63" r="1.5"/><circle cx="1193.13" cy="287.38" r="1.5"/><circle cx="1196.8" cy="287.63" r="1.5"/><circle cx="1200.85" cy="287.63" r="1.5"/><circle cx="1205.62" cy="288.85" r="1.5"/><circle cx="1222.53" cy="289.46" r="1.5"/><circle cx="1221.92" cy="291.3" r="1.5"/><circle cx="1203.17" cy="293.14" r="1.5"/><circle cx="1209.05" cy="292.77" r="1.5"/><circle cx="1223.75" cy="295.59" r="1.5"/><circle cx="1215.42" cy="296.2" r="1.5"/><circle cx="1226.82" cy="297.79" r="1.5"/><circle cx="1196.8" cy="298.9" r="1.5"/><circle cx="1208.07" cy="299.26" r="1.5"/><circle cx="1209.67" cy="299.63" r="1.5"/><circle cx="1196.8" cy="304.41" r="1.5"/><circle cx="1218.85" cy="303.31" r="1.5"/><circle cx="1217.63" cy="304.41" r="1.5"/><circle cx="1216.04" cy="305.02" r="1.5"/><circle cx="1194.97" cy="306.61" r="1.5"/><circle cx="1193.13" cy="307.84" r="1.5"/><circle cx="1194.97" cy="308.82" r="1.5"/><circle cx="1196.8" cy="308.45" r="1.5"/><circle cx="1202.32" cy="309.68" r="1.5"/><circle cx="1204.77" cy="310.29" r="1.5"/><circle cx="1207.22" cy="309.68" r="1.5"/><circle cx="1215.79" cy="309.68" r="1.5"/><circle cx="1205.38" cy="312.13" r="1.5"/><circle cx="1213.34" cy="311.51" r="1.5"/><circle cx="1228.65" cy="313.96" r="1.5"/><circle cx="1190.07" cy="314.33" r="1.5"/><circle cx="1198.03" cy="316.05" r="1.5"/><circle cx="1203.91" cy="316.05" r="1.5"/><circle cx="1213.1" cy="315.8" r="1.5"/><circle cx="1191.29" cy="317.88" r="1.5"/><circle cx="1199.87" cy="318.86" r="1.5"/><circle cx="1202.56" cy="320.95" r="1.5"/><circle cx="1189.45" cy="320.95" r="1.5"/><circle cx="1207.22" cy="320.7" r="1.5"/><circle cx="1224.61" cy="321.56" r="1.5"/><circle cx="1223.75" cy="323.15" r="1.5"/><circle cx="1222.9" cy="324.75" r="1.5"/><circle cx="1225.84" cy="328.91" r="1.5"/><circle cx="1226.69" cy="336.26" r="1.5"/><circle cx="1203.17" cy="337.61" r="1.5"/><circle cx="1209.91" cy="339.69" r="1.5"/><circle cx="1204.77" cy="346.43" r="1.5"/><circle cx="1217.63" cy="356.23" r="1.5"/></g>
<g fill="#000"><circle cx="1295.59" cy="439.56" r="1.5"/><circle cx="1298.34" cy="441.95" r="1.5"/><circle cx="1298.58" cy="455.32" r="1.5"/><circle cx="1298.22" cy="458.3" r="1.5"/><circle cx="1297.74" cy="461.4" r="1.5"/><circle cx="1309.32" cy="460.45" r="1.5"/><circle cx="1312.3" cy="464.63" r="1.5"/><circle cx="1310.51" cy="465.82" r="1.5"/><circle cx="1307.89" cy="466.77" r="1.5"/><circle cx="1319.11" cy="462.83" r="1.5"/><circle cx="1331.64" cy="463.79" r="1.5"/><circle cx="1335.22" cy="464.03" r="1.5"/><circle cx="1331.88" cy="467.37" r="1.5"/><circle cx="1326.86" cy="470.95" r="1.5"/><circle cx="1310.75" cy="473.58" r="1.5"/><circle cx="1326.63" cy="475.37" r="1.5"/><circle cx="1331.76" cy="474.77" r="1.5"/><circle cx="1300.97" cy="478.35" r="1.5"/><circle cx="1299.77" cy="479.3" r="1.5"/><circle cx="1308.13" cy="478.35" r="1.5"/><circle cx="1309.56" cy="480.14" r="1.5"/><circle cx="1310.51" cy="481.33" r="1.5"/><circle cx="1320.9" cy="479.9" r="1.5"/><circle cx="1330.8" cy="480.14" r="1.5"/><circle cx="1332.59" cy="479.54" r="1.5"/><circle cx="1332" cy="481.69" r="1.5"/><circle cx="1316.84" cy="482.53" r="1.5"/><circle cx="1325.43" cy="485.15" r="1.5"/><circle cx="1336.17" cy="484.68" r="1.5"/><circle cx="1296.19" cy="488.73" r="1.5"/><circle cx="1303.71" cy="488.73" r="1.5"/><circle cx="1317.67" cy="488.49" r="1.5"/><circle cx="1334.38" cy="491.48" r="1.5"/><circle cx="1319.46" cy="492.43" r="1.5"/><circle cx="1307.53" cy="493.27" r="1.5"/><circle cx="1305.74" cy="494.46" r="1.5"/><circle cx="1303.95" cy="494.82" r="1.5"/><circle cx="1299.18" cy="494.82" r="1.5"/><circle cx="1318.87" cy="494.46" r="1.5"/><circle cx="1335.34" cy="493.87" r="1.5"/><circle cx="1327.22" cy="495.42" r="1.5"/><circle cx="1328.42" cy="496.85" r="1.5"/><circle cx="1332.59" cy="497.21" r="1.5"/><circle cx="1319.7" cy="498.4" r="1.5"/><circle cx="1334.98" cy="499.83" r="1.5"/><circle cx="1312.9" cy="500.19" r="1.5"/><circle cx="1314.69" cy="500.43" r="1.5"/><circle cx="1303.23" cy="502.22" r="1.5"/><circle cx="1324.24" cy="515.11" r="1.5"/><circle cx="1313.5" cy="517.14" r="1.5"/><circle cx="1323.64" cy="538.62" r="1.5"/><circle cx="1336.77" cy="539.58" r="1.5"/></g>
<g fill="#000"><circle cx="1423.3" cy="400.77" r="1.5"/><circle cx="1416.49" cy="405.55" r="1.5"/><circle cx="1424.25" cy="406.14" r="1.5"/><circle cx="1423.89" cy="412.11" r="1.5"/><circle cx="1429.86" cy="413.31" r="1.5"/><circle cx="1431.05" cy="414.86" r="1.5"/><circle cx="1411" cy="415.1" r="1.5"/><circle cx="1417.93" cy="419.27" r="1.5"/><circle cx="1412.2" cy="421.3" r="1.5"/><circle cx="1412.56" cy="423.45" r="1.5"/><circle cx="1443.23" cy="427.03" r="1.5"/><circle cx="1407.9" cy="427.99" r="1.5"/><circle cx="1414.47" cy="428.22" r="1.5"/><circle cx="1421.51" cy="430.61" r="1.5"/><circle cx="1421.75" cy="432.4" r="1.5"/><circle cx="1425.33" cy="433.36" r="1.5"/><circle cx="1423.3" cy="439.56" r="1.5"/><circle cx="1437.02" cy="441.11" r="1.5"/><circle cx="1424.73" cy="442.55" r="1.5"/><circle cx="1428.43" cy="443.02" r="1.5"/><circle cx="1411.96" cy="443.74" r="1.5"/><circle cx="1418.76" cy="446.48" r="1.5"/><circle cx="1420.55" cy="450.42" r="1.5"/><circle cx="1411.36" cy="452.45" r="1.5"/><circle cx="1405.63" cy="461.28" r="1.5"/><circle cx="1408.14" cy="462.36" r="1.5"/><circle cx="1409.81" cy="465.58" r="1.5"/><circle cx="1437.74" cy="462.12" r="1.5"/><circle cx="1413.03" cy="470.95" r="1.5"/><circle cx="1432.73" cy="474.89" r="1.5"/></g>
<g fill="#000"><circle cx="1532.47" cy="244.24" r="1.5"/><circle cx="1540.61" cy="247.84" r="1.5"/><circle cx="1512.58" cy="256.36" r="1.5"/><circle cx="1536.25" cy="266.21" r="1.5"/><circle cx="1549.7" cy="266.02" r="1.5"/><circle cx="1535.88" cy="271.13" r="1.5"/><circle cx="1535.31" cy="280.98" r="1.5"/><circle cx="1538.15" cy="283.82" r="1.5"/><circle cx="1536.44" cy="288.17" r="1.5"/><circle cx="1528.68" cy="293.1" r="1.5"/><circle cx="1539.66" cy="303.14" r="1.5"/><circle cx="1543.07" cy="312.79" r="1.5"/><circle cx="1508.04" cy="316.58" r="1.5"/><circle cx="1513.91" cy="315.82" r="1.5"/><circle cx="1521.67" cy="318.85" r="1.5"/><circle cx="1508.42" cy="325.29" r="1.5"/><circle cx="1538.15" cy="330.22" r="1.5"/><circle cx="1529.25" cy="337.98" r="1.5"/></g>
<g fill="#000"><circle cx="1633.73" cy="403.86" r="1.5"/><circle cx="1619.53" cy="410.3" r="1.5"/><circle cx="1640.74" cy="410.3" r="1.5"/><circle cx="1622.94" cy="415.79" r="1.5"/><circle cx="1626.91" cy="419.01" r="1.5"/><circle cx="1648.69" cy="420.53" r="1.5"/><circle cx="1653.42" cy="419.96" r="1.5"/><circle cx="1626.34" cy="424.88" r="1.5"/><circle cx="1628.62" cy="428.1" r="1.5"/></g>
<path d="M1102.6 204.3V194.3H1209.24V204.3" stroke="#505050" stroke-width="1.5" stroke-linejoin="round" fill="none"/>
<text x="1155.92" y="188.8" class="san" font-size="8.7" text-anchor="middle" fill="#1a1a1a" stroke="#1a1a1a" stroke-width="0.15">NS.</text>
<path d="M1102.6 171.6V161.6H1315.88V171.6" stroke="#505050" stroke-width="1.5" stroke-linejoin="round" fill="none"/>
<text x="1209.24" y="155.3" class="san" font-size="8.6" text-anchor="middle" font-weight="bold" fill="#111">***</text>
<path d="M1102.6 139V129H1422.52V139" stroke="#505050" stroke-width="1.5" stroke-linejoin="round" fill="none"/>
<text x="1262.56" y="122.7" class="san" font-size="8.6" text-anchor="middle" font-weight="bold" fill="#111">***</text>
<path d="M1102.6 106V96H1529.16V106" stroke="#505050" stroke-width="1.5" stroke-linejoin="round" fill="none"/>
<text x="1315.88" y="90.5" class="san" font-size="8.7" text-anchor="middle" fill="#1a1a1a" stroke="#1a1a1a" stroke-width="0.15">NS.</text>
<path d="M1102.6 72.9V62.9H1635.8V72.9" stroke="#505050" stroke-width="1.5" stroke-linejoin="round" fill="none"/>
<text x="1369.2" y="56.6" class="san" font-size="8.6" text-anchor="middle" font-weight="bold" fill="#111">***</text>
<text x="1057.7" y="578.4" class="ser" font-size="9.6" text-anchor="start" fill="#1c1c1c" stroke="#1c1c1c" stroke-width="0.22">βHBB:c.-23A&gt;G/βN</text>
<text x="1194.5" y="578.4" class="ser" font-size="9.6" text-anchor="start" fill="#1c1c1c" stroke="#1c1c1c" stroke-width="0.22">βN/βN</text>
<text x="1250" y="578.4" class="ser" font-size="9.6" text-anchor="start" fill="#1c1c1c" stroke="#1c1c1c" stroke-width="0.22">βHBB:c.126_129delCTTT/βN</text>
<text x="1378.7" y="578.4" class="ser" font-size="9.6" text-anchor="start" fill="#1c1c1c" stroke="#1c1c1c" stroke-width="0.22">βHBB:c.-78A&gt;G/βN</text>
<text x="1469.8" y="578.4" class="ser" font-size="9.6" text-anchor="start" fill="#1c1c1c" stroke="#1c1c1c" stroke-width="0.22">βHBB: c.-11_-8delAACA/βN</text>
<text x="1596.1" y="578.4" class="ser" font-size="9.6" text-anchor="start" fill="#1c1c1c" stroke="#1c1c1c" stroke-width="0.22">βHBB: c.-29G&gt;A/βN</text>
<path d="M1715.4 182.2V213.4" stroke="#505050" stroke-width="1.4" fill="none"/>
<rect x="1692.6" y="188.05" width="45.6" height="19.5" fill="#F8766D" stroke="#1e1e1e" stroke-opacity="0.82" stroke-width="1.1"/>
<path d="M1692.6 197.8H1738.2" stroke="#1e1e1e" stroke-opacity="0.78" stroke-width="1.2" fill="none"/>
<text x="1750.9" y="202.8" class="ser" font-size="10.97" text-anchor="start" fill="#111" stroke="#111" stroke-width="0.25">βHBB:c.-23A&gt;G/βN</text>
<path d="M1715.4 221.32V252.52" stroke="#505050" stroke-width="1.4" fill="none"/>
<rect x="1692.6" y="227.17" width="45.6" height="19.5" fill="#B79F00" stroke="#1e1e1e" stroke-opacity="0.82" stroke-width="1.1"/>
<path d="M1692.6 236.92H1738.2" stroke="#1e1e1e" stroke-opacity="0.78" stroke-width="1.2" fill="none"/>
<text x="1751" y="241.92" class="ser" font-size="13.2" text-anchor="start" fill="#111" stroke="#111" stroke-width="0.25">βN/βN</text>
<path d="M1715.4 260.44V291.64" stroke="#505050" stroke-width="1.4" fill="none"/>
<rect x="1692.6" y="266.29" width="45.6" height="19.5" fill="#00BA38" stroke="#1e1e1e" stroke-opacity="0.82" stroke-width="1.1"/>
<path d="M1692.6 276.04H1738.2" stroke="#1e1e1e" stroke-opacity="0.78" stroke-width="1.2" fill="none"/>
<text x="1751" y="281.04" class="ser" font-size="11.2" text-anchor="start" fill="#111" stroke="#111" stroke-width="0.25">βHBB:c.126_129delCTTT/βN</text>
<path d="M1715.4 299.56V330.76" stroke="#505050" stroke-width="1.4" fill="none"/>
<rect x="1692.6" y="305.41" width="45.6" height="19.5" fill="#00BFC4" stroke="#1e1e1e" stroke-opacity="0.82" stroke-width="1.1"/>
<path d="M1692.6 315.16H1738.2" stroke="#1e1e1e" stroke-opacity="0.78" stroke-width="1.2" fill="none"/>
<text x="1751.4" y="320.16" class="ser" font-size="11.25" text-anchor="start" fill="#111" stroke="#111" stroke-width="0.25">βHBB:c.-78A&gt;G/βN</text>
<path d="M1715.4 338.68V369.88" stroke="#505050" stroke-width="1.4" fill="none"/>
<rect x="1692.6" y="344.53" width="45.6" height="19.5" fill="#619CFF" stroke="#1e1e1e" stroke-opacity="0.82" stroke-width="1.1"/>
<path d="M1692.6 354.28H1738.2" stroke="#1e1e1e" stroke-opacity="0.78" stroke-width="1.2" fill="none"/>
<text x="1751" y="359.28" class="ser" font-size="11.22" text-anchor="start" fill="#111" stroke="#111" stroke-width="0.25">βHBB: c.-11_-8delAACA/βN</text>
<path d="M1715.4 377.8V409" stroke="#505050" stroke-width="1.4" fill="none"/>
<rect x="1692.6" y="383.65" width="45.6" height="19.5" fill="#F564E3" stroke="#1e1e1e" stroke-opacity="0.82" stroke-width="1.1"/>
<path d="M1692.6 393.4H1738.2" stroke="#1e1e1e" stroke-opacity="0.78" stroke-width="1.2" fill="none"/>
<text x="1751" y="398.4" class="ser" font-size="11.23" text-anchor="start" fill="#111" stroke="#111" stroke-width="0.25">βHBB: c.-29G&gt;A/βN</text>
<path d="M49.05 681.8V1206H718.9" stroke="#333333" stroke-width="1.3" stroke-linejoin="round" fill="none"/>
<text x="44.75" y="883.2" class="san" font-size="16.1" text-anchor="end" fill="#4d4d4d" stroke="#4d4d4d" stroke-width="0.2">6</text>
<text x="44.75" y="1047.2" class="san" font-size="16.1" text-anchor="end" fill="#4d4d4d" stroke="#4d4d4d" stroke-width="0.2">4</text>
<text x="44.75" y="1211.2" class="san" font-size="16.1" text-anchor="end" fill="#4d4d4d" stroke="#4d4d4d" stroke-width="0.2">2</text>
<path d="M46.65 877.4H49.05M46.65 1041.4H49.05M46.65 1205.4H49.05M113.8 1206V1208.6M221.94 1206V1208.6M330.08 1206V1208.6M438.22 1206V1208.6M546.36 1206V1208.6M654.5 1206V1208.6" stroke="#333333" stroke-width="1.1" fill="none"/>
<text transform="translate(31.4 943.9) rotate(-90)" class="san" font-size="16.2" text-anchor="middle" fill="#000" stroke="#000" stroke-width="0.2">Hb A2 (%)</text>
<text x="4.7" y="675.1" class="ser" font-size="40.6" text-anchor="start" font-weight="bold" fill="#000">C</text>
<path d="M113.8 1123V1139.5M113.8 1155.8V1172.1M97.7 1123H129.9M97.7 1172.1H129.9" stroke="#505050" stroke-width="1.5" fill="none"/>
<rect x="73.15" y="1139.5" width="81.3" height="16.3" fill="#F8766D" stroke="#1e1e1e" stroke-opacity="0.82" stroke-width="1.1"/>
<path d="M73.15 1147.5H154.45" stroke="#161616" stroke-opacity="0.8" stroke-width="2" fill="none"/>
<path d="M221.94 1114.9V1139.5M221.94 1157.9V1180.2M205.84 1114.9H238.04M205.84 1180.2H238.04" stroke="#505050" stroke-width="1.5" fill="none"/>
<rect x="181.29" y="1139.5" width="81.3" height="18.4" fill="#B79F00" stroke="#1e1e1e" stroke-opacity="0.82" stroke-width="1.1"/>
<path d="M181.29 1147.5H262.59" stroke="#161616" stroke-opacity="0.8" stroke-width="2" fill="none"/>
<path d="M330.08 852.9V902.2M330.08 943.1V991.9M313.98 852.9H346.18M313.98 991.9H346.18" stroke="#505050" stroke-width="1.5" fill="none"/>
<rect x="289.43" y="902.2" width="81.3" height="40.9" fill="#00BA38" stroke="#1e1e1e" stroke-opacity="0.82" stroke-width="1.1"/>
<path d="M289.43 926.6H370.73" stroke="#161616" stroke-opacity="0.8" stroke-width="2" fill="none"/>
<path d="M438.22 852.9V894M438.22 940.8V1000.3M422.12 852.9H454.32M422.12 1000.3H454.32" stroke="#505050" stroke-width="1.5" fill="none"/>
<rect x="397.57" y="894" width="81.3" height="46.8" fill="#00BFC4" stroke="#1e1e1e" stroke-opacity="0.82" stroke-width="1.1"/>
<path d="M397.57 910.3H478.87" stroke="#161616" stroke-opacity="0.8" stroke-width="2" fill="none"/>
<path d="M546.36 1123V1139.5M546.36 1155.8V1163.7M530.26 1123H562.46M530.26 1163.7H562.46" stroke="#505050" stroke-width="1.5" fill="none"/>
<rect x="505.71" y="1139.5" width="81.3" height="16.3" fill="#619CFF" stroke="#1e1e1e" stroke-opacity="0.82" stroke-width="1.1"/>
<path d="M505.71 1147.4H587.01" stroke="#161616" stroke-opacity="0.8" stroke-width="2" fill="none"/>
<path d="M654.5 1016.4V1024.9M654.5 1039.3V1049.3M638.4 1016.4H670.6M638.4 1049.3H670.6" stroke="#505050" stroke-width="1.5" fill="none"/>
<rect x="613.85" y="1024.9" width="81.3" height="14.4" fill="#F564E3" stroke="#1e1e1e" stroke-opacity="0.82" stroke-width="1.1"/>
<path d="M613.85 1032.8H695.15" stroke="#161616" stroke-opacity="0.8" stroke-width="2" fill="none"/>
<g fill="#000"><circle cx="124.89" cy="1112.82" r="1.5"/><circle cx="115.95" cy="1116.39" r="1.5"/><circle cx="121.42" cy="1119.76" r="1.5"/><circle cx="113.01" cy="1121.55" r="1.5"/><circle cx="113.01" cy="1123.65" r="1.5"/><circle cx="112.69" cy="1125.23" r="1.5"/><circle cx="107.33" cy="1125.75" r="1.5"/><circle cx="120.26" cy="1129.75" r="1.5"/><circle cx="121.42" cy="1132.06" r="1.5"/><circle cx="95.13" cy="1131.96" r="1.5"/><circle cx="129.62" cy="1131.75" r="1.5"/><circle cx="101.44" cy="1133.64" r="1.5"/><circle cx="121.84" cy="1136.79" r="1.5"/><circle cx="128.99" cy="1136.48" r="1.5"/><circle cx="101.44" cy="1138.37" r="1.5"/><circle cx="110.06" cy="1138.58" r="1.5"/><circle cx="108.8" cy="1140.26" r="1.5"/><circle cx="107.43" cy="1142.05" r="1.5"/><circle cx="93.24" cy="1141" r="1.5"/><circle cx="94.29" cy="1142.58" r="1.5"/><circle cx="116.9" cy="1140.47" r="1.5"/><circle cx="129.51" cy="1142.26" r="1.5"/><circle cx="123.52" cy="1144.36" r="1.5"/><circle cx="106.91" cy="1147.31" r="1.5"/><circle cx="128.78" cy="1147.1" r="1.5"/><circle cx="96.18" cy="1147.83" r="1.5"/><circle cx="98.49" cy="1148.89" r="1.5"/><circle cx="104.8" cy="1148.04" r="1.5"/><circle cx="115.84" cy="1148.36" r="1.5"/><circle cx="114.27" cy="1149.94" r="1.5"/><circle cx="97.23" cy="1150.46" r="1.5"/><circle cx="107.96" cy="1150.78" r="1.5"/><circle cx="106.91" cy="1152.88" r="1.5"/><circle cx="97.97" cy="1153.09" r="1.5"/><circle cx="110.06" cy="1154.98" r="1.5"/><circle cx="94.29" cy="1154.14" r="1.5"/><circle cx="93.24" cy="1155.4" r="1.5"/><circle cx="95.13" cy="1155.72" r="1.5"/><circle cx="96.6" cy="1156.77" r="1.5"/><circle cx="113.43" cy="1156.77" r="1.5"/><circle cx="117.11" cy="1156.25" r="1.5"/><circle cx="127.94" cy="1156.56" r="1.5"/><circle cx="130.78" cy="1156.98" r="1.5"/><circle cx="133.19" cy="1156.98" r="1.5"/><circle cx="125.83" cy="1158.87" r="1.5"/><circle cx="133.4" cy="1161.82" r="1.5"/><circle cx="93.24" cy="1162.03" r="1.5"/><circle cx="95.13" cy="1161.5" r="1.5"/><circle cx="96.39" cy="1163.08" r="1.5"/><circle cx="98.49" cy="1161.82" r="1.5"/><circle cx="101.65" cy="1160.98" r="1.5"/><circle cx="119.52" cy="1163.4" r="1.5"/><circle cx="128.78" cy="1165.81" r="1.5"/><circle cx="98.7" cy="1169.71" r="1.5"/><circle cx="97.44" cy="1172.02" r="1.5"/><circle cx="102.7" cy="1171.18" r="1.5"/><circle cx="94.6" cy="1182.22" r="1.5"/></g>
<g fill="#000"><circle cx="224.15" cy="1107.03" r="1.5"/><circle cx="202.38" cy="1112.61" r="1.5"/><circle cx="202.6" cy="1116.29" r="1.5"/><circle cx="203.65" cy="1117.66" r="1.5"/><circle cx="220.47" cy="1117.13" r="1.5"/><circle cx="242.45" cy="1117.55" r="1.5"/><circle cx="204.49" cy="1124.7" r="1.5"/><circle cx="201.02" cy="1128.38" r="1.5"/><circle cx="202.07" cy="1130.48" r="1.5"/><circle cx="207.33" cy="1127.85" r="1.5"/><circle cx="208.38" cy="1129.96" r="1.5"/><circle cx="217.32" cy="1128.07" r="1.5"/><circle cx="232.77" cy="1130.48" r="1.5"/><circle cx="234.46" cy="1133.11" r="1.5"/><circle cx="221" cy="1132.06" r="1.5"/><circle cx="242.66" cy="1132.48" r="1.5"/><circle cx="201.54" cy="1136.48" r="1.5"/><circle cx="211.53" cy="1138.9" r="1.5"/><circle cx="213.11" cy="1141.52" r="1.5"/><circle cx="221" cy="1140.26" r="1.5"/><circle cx="236.77" cy="1139.11" r="1.5"/><circle cx="240.98" cy="1139.11" r="1.5"/><circle cx="240.45" cy="1142.05" r="1.5"/><circle cx="229.62" cy="1142.58" r="1.5"/><circle cx="229.41" cy="1144.68" r="1.5"/><circle cx="243.39" cy="1144.68" r="1.5"/><circle cx="204.17" cy="1144.68" r="1.5"/><circle cx="203.12" cy="1146.78" r="1.5"/><circle cx="202.6" cy="1149.41" r="1.5"/><circle cx="217.84" cy="1146.26" r="1.5"/><circle cx="216.79" cy="1147.83" r="1.5"/><circle cx="217.84" cy="1149.41" r="1.5"/><circle cx="222.36" cy="1148.57" r="1.5"/><circle cx="233.62" cy="1146.78" r="1.5"/><circle cx="235.19" cy="1145.73" r="1.5"/><circle cx="237.3" cy="1146.26" r="1.5"/><circle cx="238.35" cy="1144.99" r="1.5"/><circle cx="203.12" cy="1152.04" r="1.5"/><circle cx="201.54" cy="1156.25" r="1.5"/><circle cx="204.7" cy="1153.09" r="1.5"/><circle cx="206.8" cy="1154.14" r="1.5"/><circle cx="210.48" cy="1154.14" r="1.5"/><circle cx="221.52" cy="1154.14" r="1.5"/><circle cx="225.73" cy="1153.83" r="1.5"/><circle cx="223.63" cy="1156.25" r="1.5"/><circle cx="222.57" cy="1157.82" r="1.5"/><circle cx="219.95" cy="1158.35" r="1.5"/><circle cx="232.04" cy="1156.25" r="1.5"/><circle cx="233.62" cy="1154.98" r="1.5"/><circle cx="235.72" cy="1153.93" r="1.5"/><circle cx="241.5" cy="1153.09" r="1.5"/><circle cx="207.12" cy="1162.87" r="1.5"/><circle cx="210.48" cy="1164.34" r="1.5"/><circle cx="207.33" cy="1167.08" r="1.5"/><circle cx="217.32" cy="1164.66" r="1.5"/><circle cx="224.68" cy="1163.08" r="1.5"/><circle cx="225.2" cy="1164.45" r="1.5"/><circle cx="229.41" cy="1163.08" r="1.5"/><circle cx="221" cy="1166.55" r="1.5"/><circle cx="238.35" cy="1162.03" r="1.5"/><circle cx="238.87" cy="1164.66" r="1.5"/><circle cx="240.45" cy="1165.71" r="1.5"/><circle cx="242.03" cy="1166.76" r="1.5"/><circle cx="241.71" cy="1172.97" r="1.5"/><circle cx="229.62" cy="1172.86" r="1.5"/><circle cx="210.48" cy="1174.44" r="1.5"/><circle cx="214.69" cy="1173.81" r="1.5"/><circle cx="216.05" cy="1172.86" r="1.5"/><circle cx="221" cy="1177.8" r="1.5"/></g>
<g fill="#000"><circle cx="310.22" cy="852.54" r="1.5"/><circle cx="326.32" cy="867.31" r="1.5"/><circle cx="318.55" cy="870.15" r="1.5"/><circle cx="336.73" cy="872.61" r="1.5"/><circle cx="351.32" cy="872.04" r="1.5"/><circle cx="346.01" cy="876.59" r="1.5"/><circle cx="339.2" cy="883.78" r="1.5"/><circle cx="341.66" cy="887" r="1.5"/><circle cx="349.42" cy="890.79" r="1.5"/><circle cx="308.52" cy="894.39" r="1.5"/><circle cx="317.61" cy="894.96" r="1.5"/><circle cx="325.56" cy="893.63" r="1.5"/><circle cx="328.4" cy="895.52" r="1.5"/><circle cx="321.39" cy="900.45" r="1.5"/><circle cx="343.36" cy="901.39" r="1.5"/><circle cx="318.55" cy="904.42" r="1.5"/><circle cx="331.62" cy="904.23" r="1.5"/><circle cx="327.26" cy="908.4" r="1.5"/><circle cx="348.47" cy="908.21" r="1.5"/><circle cx="334.27" cy="910.11" r="1.5"/><circle cx="332.38" cy="911.43" r="1.5"/><circle cx="321.58" cy="916.54" r="1.5"/><circle cx="324.42" cy="915.79" r="1.5"/><circle cx="327.83" cy="915.79" r="1.5"/><circle cx="332.95" cy="915.79" r="1.5"/><circle cx="314.96" cy="920.9" r="1.5"/><circle cx="331.43" cy="921.28" r="1.5"/><circle cx="310.98" cy="923.36" r="1.5"/><circle cx="318.17" cy="923.93" r="1.5"/><circle cx="322.91" cy="925.07" r="1.5"/><circle cx="337.68" cy="923.93" r="1.5"/><circle cx="309.27" cy="927.53" r="1.5"/><circle cx="342.79" cy="927.72" r="1.5"/><circle cx="350.56" cy="926.96" r="1.5"/><circle cx="349.99" cy="932.64" r="1.5"/><circle cx="344.69" cy="933.4" r="1.5"/><circle cx="317.61" cy="937.38" r="1.5"/><circle cx="341.09" cy="936.62" r="1.5"/><circle cx="343.55" cy="937.19" r="1.5"/><circle cx="349.23" cy="935.48" r="1.5"/><circle cx="313.44" cy="943.62" r="1.5"/><circle cx="335.22" cy="943.06" r="1.5"/><circle cx="339.38" cy="944.38" r="1.5"/><circle cx="323.48" cy="948.74" r="1.5"/><circle cx="339.76" cy="949.31" r="1.5"/><circle cx="316.28" cy="953.47" r="1.5"/><circle cx="323.48" cy="952.52" r="1.5"/><circle cx="325.75" cy="960.1" r="1.5"/><circle cx="328.59" cy="959.34" r="1.5"/><circle cx="329.54" cy="958.77" r="1.5"/><circle cx="346.77" cy="958.96" r="1.5"/><circle cx="309.27" cy="961.05" r="1.5"/><circle cx="308.9" cy="966.54" r="1.5"/><circle cx="313.25" cy="967.3" r="1.5"/><circle cx="339.57" cy="980.93" r="1.5"/><circle cx="341.66" cy="989.64" r="1.5"/></g>
<g fill="#000"><circle cx="452.63" cy="850.83" r="1.5"/><circle cx="435.59" cy="861.06" r="1.5"/><circle cx="458.5" cy="860.3" r="1.5"/><circle cx="428.01" cy="874.5" r="1.5"/><circle cx="420.63" cy="879.99" r="1.5"/><circle cx="417.79" cy="885.49" r="1.5"/><circle cx="419.87" cy="885.49" r="1.5"/><circle cx="430.85" cy="895.14" r="1.5"/><circle cx="449.6" cy="897.04" r="1.5"/><circle cx="453.58" cy="899.31" r="1.5"/><circle cx="457.36" cy="900.64" r="1.5"/><circle cx="429.15" cy="900.07" r="1.5"/><circle cx="434.64" cy="901.39" r="1.5"/><circle cx="417.03" cy="902.15" r="1.5"/><circle cx="443.16" cy="908.4" r="1.5"/><circle cx="442.4" cy="910.86" r="1.5"/><circle cx="437.1" cy="916.73" r="1.5"/><circle cx="452.63" cy="915.98" r="1.5"/><circle cx="453.58" cy="919.38" r="1.5"/><circle cx="418.35" cy="920.14" r="1.5"/><circle cx="459.45" cy="925.07" r="1.5"/><circle cx="417.6" cy="931.88" r="1.5"/><circle cx="454.9" cy="943.44" r="1.5"/><circle cx="457.18" cy="943.62" r="1.5"/><circle cx="432.75" cy="948.17" r="1.5"/><circle cx="445.43" cy="948.55" r="1.5"/><circle cx="437.86" cy="952.71" r="1.5"/><circle cx="442.97" cy="954.23" r="1.5"/><circle cx="456.23" cy="983.39" r="1.5"/><circle cx="417.41" cy="998.73" r="1.5"/></g>
<g fill="#000"><circle cx="539.73" cy="1124.11" r="1.5"/><circle cx="556.58" cy="1129.79" r="1.5"/><circle cx="539.73" cy="1136.42" r="1.5"/><circle cx="539.16" cy="1140.97" r="1.5"/><circle cx="556.39" cy="1140.59" r="1.5"/><circle cx="565.67" cy="1142.48" r="1.5"/><circle cx="527.23" cy="1142.48" r="1.5"/><circle cx="529.5" cy="1144" r="1.5"/><circle cx="543.32" cy="1148.16" r="1.5"/><circle cx="549.01" cy="1148.54" r="1.5"/><circle cx="550.52" cy="1147.41" r="1.5"/><circle cx="554.12" cy="1148.73" r="1.5"/><circle cx="537.83" cy="1152.9" r="1.5"/><circle cx="544.27" cy="1153.66" r="1.5"/><circle cx="555.82" cy="1152.9" r="1.5"/><circle cx="561.5" cy="1153.09" r="1.5"/><circle cx="544.27" cy="1158.39" r="1.5"/><circle cx="552.41" cy="1156.69" r="1.5"/><circle cx="535.18" cy="1166.91" r="1.5"/><circle cx="549.01" cy="1166.91" r="1.5"/></g>
<g fill="#000"><circle cx="644.83" cy="997.61" r="1.5"/><circle cx="660.74" cy="1016.36" r="1.5"/><circle cx="659.03" cy="1022.23" r="1.5"/><circle cx="632.52" cy="1022.99" r="1.5"/><circle cx="638.96" cy="1031.51" r="1.5"/><circle cx="633.85" cy="1036.05" r="1.5"/><circle cx="644.45" cy="1035.3" r="1.5"/><circle cx="667.55" cy="1041.93" r="1.5"/><circle cx="646.53" cy="1047.61" r="1.5"/><circle cx="649" cy="1049.5" r="1.5"/></g>
<path d="M113.8 847V837H221.94V847" stroke="#505050" stroke-width="1.5" stroke-linejoin="round" fill="none"/>
<text x="167.87" y="831.5" class="san" font-size="8.7" text-anchor="middle" fill="#1a1a1a" stroke="#1a1a1a" stroke-width="0.15">NS.</text>
<path d="M113.8 813.7V803.7H330.08V813.7" stroke="#505050" stroke-width="1.5" stroke-linejoin="round" fill="none"/>
<text x="221.94" y="797.4" class="san" font-size="8.6" text-anchor="middle" font-weight="bold" fill="#111">***</text>
<path d="M113.8 781.1V771.1H438.22V781.1" stroke="#505050" stroke-width="1.5" stroke-linejoin="round" fill="none"/>
<text x="276.01" y="764.8" class="san" font-size="8.6" text-anchor="middle" font-weight="bold" fill="#111">***</text>
<path d="M113.8 748.3V738.3H546.36V748.3" stroke="#505050" stroke-width="1.5" stroke-linejoin="round" fill="none"/>
<text x="330.08" y="732.8" class="san" font-size="8.7" text-anchor="middle" fill="#1a1a1a" stroke="#1a1a1a" stroke-width="0.15">NS.</text>
<path d="M113.8 715.5V705.5H654.5V715.5" stroke="#505050" stroke-width="1.5" stroke-linejoin="round" fill="none"/>
<text x="384.15" y="699.2" class="san" font-size="8.6" text-anchor="middle" font-weight="bold" fill="#111">***</text>
<text x="73.1" y="1219" class="ser" font-size="9.6" text-anchor="start" fill="#1c1c1c" stroke="#1c1c1c" stroke-width="0.22">βHBB:c.-23A&gt;G/βN</text>
<text x="210.2" y="1219" class="ser" font-size="9.6" text-anchor="start" fill="#1c1c1c" stroke="#1c1c1c" stroke-width="0.22">βN/βN</text>
<text x="265.7" y="1219" class="ser" font-size="9.6" text-anchor="start" fill="#1c1c1c" stroke="#1c1c1c" stroke-width="0.22">βHBB:c.126_129delCTTT/βN</text>
<text x="394.5" y="1219" class="ser" font-size="9.6" text-anchor="start" fill="#1c1c1c" stroke="#1c1c1c" stroke-width="0.22">βHBB:c.-78A&gt;G/βN</text>
<text x="485.5" y="1219" class="ser" font-size="9.6" text-anchor="start" fill="#1c1c1c" stroke="#1c1c1c" stroke-width="0.22">βHBB: c.-11_-8delAACA/βN</text>
<text x="611.5" y="1219" class="ser" font-size="9.6" text-anchor="start" fill="#1c1c1c" stroke="#1c1c1c" stroke-width="0.22">βHBB: c.-29G&gt;A/βN</text>
<path d="M745.4 831V862.2" stroke="#505050" stroke-width="1.4" fill="none"/>
<rect x="722.6" y="836.85" width="45.6" height="19.5" fill="#F8766D" stroke="#1e1e1e" stroke-opacity="0.82" stroke-width="1.1"/>
<path d="M722.6 846.6H768.2" stroke="#1e1e1e" stroke-opacity="0.78" stroke-width="1.2" fill="none"/>
<text x="780.3" y="851.6" class="ser" font-size="10.97" text-anchor="start" fill="#111" stroke="#111" stroke-width="0.25">βHBB:c.-23A&gt;G/βN</text>
<path d="M745.4 870.1V901.3" stroke="#505050" stroke-width="1.4" fill="none"/>
<rect x="722.6" y="875.95" width="45.6" height="19.5" fill="#B79F00" stroke="#1e1e1e" stroke-opacity="0.82" stroke-width="1.1"/>
<path d="M722.6 885.7H768.2" stroke="#1e1e1e" stroke-opacity="0.78" stroke-width="1.2" fill="none"/>
<text x="781" y="890.7" class="ser" font-size="13.2" text-anchor="start" fill="#111" stroke="#111" stroke-width="0.25">βN/βN</text>
<path d="M745.4 909.2V940.4" stroke="#505050" stroke-width="1.4" fill="none"/>
<rect x="722.6" y="915.05" width="45.6" height="19.5" fill="#00BA38" stroke="#1e1e1e" stroke-opacity="0.82" stroke-width="1.1"/>
<path d="M722.6 924.8H768.2" stroke="#1e1e1e" stroke-opacity="0.78" stroke-width="1.2" fill="none"/>
<text x="781" y="929.8" class="ser" font-size="11.2" text-anchor="start" fill="#111" stroke="#111" stroke-width="0.25">βHBB:c.126_129delCTTT/βN</text>
<path d="M745.4 948.3V979.5" stroke="#505050" stroke-width="1.4" fill="none"/>
<rect x="722.6" y="954.15" width="45.6" height="19.5" fill="#00BFC4" stroke="#1e1e1e" stroke-opacity="0.82" stroke-width="1.1"/>
<path d="M722.6 963.9H768.2" stroke="#1e1e1e" stroke-opacity="0.78" stroke-width="1.2" fill="none"/>
<text x="781.4" y="968.9" class="ser" font-size="11.25" text-anchor="start" fill="#111" stroke="#111" stroke-width="0.25">βHBB:c.-78A&gt;G/βN</text>
<path d="M745.4 987.4V1018.6" stroke="#505050" stroke-width="1.4" fill="none"/>
<rect x="722.6" y="993.25" width="45.6" height="19.5" fill="#619CFF" stroke="#1e1e1e" stroke-opacity="0.82" stroke-width="1.1"/>
<path d="M722.6 1003H768.2" stroke="#1e1e1e" stroke-opacity="0.78" stroke-width="1.2" fill="none"/>
<text x="781" y="1008" class="ser" font-size="11.22" text-anchor="start" fill="#111" stroke="#111" stroke-width="0.25">βHBB: c.-11_-8delAACA/βN</text>
<path d="M745.4 1026.5V1057.7" stroke="#505050" stroke-width="1.4" fill="none"/>
<rect x="722.6" y="1032.35" width="45.6" height="19.5" fill="#F564E3" stroke="#1e1e1e" stroke-opacity="0.82" stroke-width="1.1"/>
<path d="M722.6 1042.1H768.2" stroke="#1e1e1e" stroke-opacity="0.78" stroke-width="1.2" fill="none"/>
<text x="781" y="1047.1" class="ser" font-size="11.23" text-anchor="start" fill="#111" stroke="#111" stroke-width="0.25">βHBB: c.-29G&gt;A/βN</text>
<path d="M1039.9 682V1206.5H1709.8" stroke="#333333" stroke-width="1.3" stroke-linejoin="round" fill="none"/>
<text x="1035.6" y="889.5" class="san" font-size="16.1" text-anchor="end" fill="#4d4d4d" stroke="#4d4d4d" stroke-width="0.2">6</text>
<text x="1035.6" y="1039.1" class="san" font-size="16.1" text-anchor="end" fill="#4d4d4d" stroke="#4d4d4d" stroke-width="0.2">4</text>
<text x="1035.6" y="1188.7" class="san" font-size="16.1" text-anchor="end" fill="#4d4d4d" stroke="#4d4d4d" stroke-width="0.2">2</text>
<path d="M1037.5 883.7H1039.9M1037.5 1033.3H1039.9M1037.5 1182.9H1039.9M1104.9 1206.5V1209.1M1212.9 1206.5V1209.1M1320.9 1206.5V1209.1M1428.9 1206.5V1209.1M1536.9 1206.5V1209.1M1644.9 1206.5V1209.1" stroke="#333333" stroke-width="1.1" fill="none"/>
<text transform="translate(1021.8 944.25) rotate(-90)" class="san" font-size="16.2" text-anchor="middle" fill="#000" stroke="#000" stroke-width="0.2">Hb A2 (%)</text>
<text x="985.6" y="676.4" class="ser" font-size="40" text-anchor="start" font-weight="bold" fill="#000">D</text>
<path d="M1104.9 1152.8V1160M1104.9 1166V1167.7M1088.8 1152.8H1121M1088.8 1167.7H1121" stroke="#505050" stroke-width="1.5" fill="none"/>
<rect x="1064.2" y="1160" width="81.4" height="6" fill="#C77C7C" stroke="#1e1e1e" stroke-opacity="0.82" stroke-width="1.1"/>
<path d="M1064.2 1160.9H1145.6" stroke="#161616" stroke-opacity="0.8" stroke-width="2" fill="none"/>
<path d="M1212.9 1108.1V1122.9M1212.9 1137.8V1152.6M1196.8 1108.1H1229M1196.8 1152.6H1229" stroke="#505050" stroke-width="1.5" fill="none"/>
<rect x="1172.2" y="1122.9" width="81.4" height="14.9" fill="#5C5C33" stroke="#1e1e1e" stroke-opacity="0.82" stroke-width="1.1"/>
<path d="M1172.2 1130.4H1253.6" stroke="#161616" stroke-opacity="0.8" stroke-width="2" fill="none"/>
<path d="M1320.9 1100.1V1122.9M1320.9 1139.7V1160.2M1304.8 1100.1H1337M1304.8 1160.2H1337" stroke="#505050" stroke-width="1.5" fill="none"/>
<rect x="1280.2" y="1122.9" width="81.4" height="16.8" fill="#47E047" stroke="#1e1e1e" stroke-opacity="0.82" stroke-width="1.1"/>
<path d="M1280.2 1130.4H1361.6" stroke="#161616" stroke-opacity="0.8" stroke-width="2" fill="none"/>
<path d="M1428.9 1145.2V1152.4M1428.9 1167.7V1182.5M1412.8 1145.2H1445M1412.8 1182.5H1445" stroke="#505050" stroke-width="1.5" fill="none"/>
<rect x="1388.2" y="1152.4" width="81.4" height="15.3" fill="#358585" stroke="#1e1e1e" stroke-opacity="0.82" stroke-width="1.1"/>
<path d="M1388.2 1153.3H1469.6" stroke="#161616" stroke-opacity="0.8" stroke-width="2" fill="none"/>
<path d="M1536.9 868.8V926.8M1536.9 971.5V1010.9M1520.8 868.8H1553M1520.8 1010.9H1553" stroke="#505050" stroke-width="1.5" fill="none"/>
<rect x="1496.2" y="926.8" width="81.4" height="44.7" fill="#4343AB" stroke="#1e1e1e" stroke-opacity="0.82" stroke-width="1.1"/>
<path d="M1496.2 950.8H1577.6" stroke="#161616" stroke-opacity="0.8" stroke-width="2" fill="none"/>
<path d="M1644.9 853.9V906.1M1644.9 941.7V950.8M1628.8 853.9H1661M1628.8 950.8H1661" stroke="#505050" stroke-width="1.5" fill="none"/>
<rect x="1604.2" y="906.1" width="81.4" height="35.6" fill="#D133D1" stroke="#1e1e1e" stroke-opacity="0.82" stroke-width="1.1"/>
<path d="M1604.2 906.8H1685.6" stroke="#161616" stroke-opacity="0.8" stroke-width="2" fill="none"/>
<g fill="#000"><circle cx="1095.02" cy="1152.01" r="1.5"/><circle cx="1096.35" cy="1159.01" r="1.5"/><circle cx="1101.65" cy="1159.77" r="1.5"/><circle cx="1084.99" cy="1164.88" r="1.5"/><circle cx="1110.36" cy="1170.76" r="1.5"/></g>
<g fill="#000"><circle cx="1214.69" cy="1097.53" r="1.5"/><circle cx="1233.55" cy="1097.85" r="1.5"/><circle cx="1207.25" cy="1104.96" r="1.5"/><circle cx="1221.26" cy="1104.86" r="1.5"/><circle cx="1224.82" cy="1106.26" r="1.5"/><circle cx="1213.5" cy="1107.12" r="1.5"/><circle cx="1195.5" cy="1113.59" r="1.5"/><circle cx="1197.33" cy="1115.96" r="1.5"/><circle cx="1214.58" cy="1112.94" r="1.5"/><circle cx="1207.03" cy="1117.47" r="1.5"/><circle cx="1192.48" cy="1120.7" r="1.5"/><circle cx="1196.47" cy="1121.35" r="1.5"/><circle cx="1212.96" cy="1120.81" r="1.5"/><circle cx="1227.51" cy="1122.1" r="1.5"/><circle cx="1233.66" cy="1121.99" r="1.5"/><circle cx="1203.26" cy="1123.5" r="1.5"/><circle cx="1204.66" cy="1124.79" r="1.5"/><circle cx="1212.1" cy="1124.26" r="1.5"/><circle cx="1224.06" cy="1124.04" r="1.5"/><circle cx="1200.03" cy="1130.51" r="1.5"/><circle cx="1201.65" cy="1129.43" r="1.5"/><circle cx="1205.74" cy="1128.89" r="1.5"/><circle cx="1207.57" cy="1128.35" r="1.5"/><circle cx="1208.65" cy="1129.97" r="1.5"/><circle cx="1207.57" cy="1131.59" r="1.5"/><circle cx="1214.58" cy="1129.43" r="1.5"/><circle cx="1219.21" cy="1128.35" r="1.5"/><circle cx="1225.68" cy="1128.89" r="1.5"/><circle cx="1232.04" cy="1129.21" r="1.5"/><circle cx="1232.9" cy="1133.2" r="1.5"/><circle cx="1195.72" cy="1133.2" r="1.5"/><circle cx="1195.5" cy="1135.36" r="1.5"/><circle cx="1196.26" cy="1136.97" r="1.5"/><circle cx="1203.26" cy="1137.51" r="1.5"/><circle cx="1204.34" cy="1136.65" r="1.5"/><circle cx="1211.35" cy="1136.44" r="1.5"/><circle cx="1212.96" cy="1135.9" r="1.5"/><circle cx="1214.58" cy="1136.65" r="1.5"/><circle cx="1219.43" cy="1136.44" r="1.5"/><circle cx="1219.97" cy="1138.59" r="1.5"/><circle cx="1223.74" cy="1138.05" r="1.5"/><circle cx="1224.06" cy="1139.45" r="1.5"/><circle cx="1196.47" cy="1139.67" r="1.5"/><circle cx="1230.96" cy="1138.91" r="1.5"/><circle cx="1234.41" cy="1138.91" r="1.5"/><circle cx="1215.66" cy="1142.58" r="1.5"/><circle cx="1219.54" cy="1143.44" r="1.5"/><circle cx="1193.89" cy="1144.52" r="1.5"/><circle cx="1208.65" cy="1145.6" r="1.5"/><circle cx="1203.05" cy="1146.46" r="1.5"/><circle cx="1201.43" cy="1147.97" r="1.5"/><circle cx="1221.05" cy="1147.97" r="1.5"/><circle cx="1226.97" cy="1147.97" r="1.5"/><circle cx="1230.42" cy="1146.35" r="1.5"/><circle cx="1191.3" cy="1149.91" r="1.5"/><circle cx="1233.12" cy="1152.71" r="1.5"/><circle cx="1220.18" cy="1154.33" r="1.5"/><circle cx="1228.16" cy="1157.67" r="1.5"/></g>
<g fill="#000"><circle cx="1301.88" cy="1092.03" r="1.5"/><circle cx="1320.53" cy="1099.25" r="1.5"/><circle cx="1323.12" cy="1099.47" r="1.5"/><circle cx="1332.38" cy="1098.93" r="1.5"/><circle cx="1313.52" cy="1103.24" r="1.5"/><circle cx="1333.79" cy="1103.02" r="1.5"/><circle cx="1308.35" cy="1108.84" r="1.5"/><circle cx="1308.89" cy="1113.8" r="1.5"/><circle cx="1309.97" cy="1115.96" r="1.5"/><circle cx="1314.28" cy="1117.03" r="1.5"/><circle cx="1320.53" cy="1115.2" r="1.5"/><circle cx="1334.76" cy="1112.72" r="1.5"/><circle cx="1333.68" cy="1113.8" r="1.5"/><circle cx="1342.3" cy="1113.05" r="1.5"/><circle cx="1342.3" cy="1115.74" r="1.5"/><circle cx="1339.61" cy="1117.57" r="1.5"/><circle cx="1336.91" cy="1116.82" r="1.5"/><circle cx="1325.06" cy="1118.11" r="1.5"/><circle cx="1328.83" cy="1120.05" r="1.5"/><circle cx="1337.45" cy="1120.05" r="1.5"/><circle cx="1301.88" cy="1120.59" r="1.5"/><circle cx="1306.19" cy="1120.05" r="1.5"/><circle cx="1308.35" cy="1120.81" r="1.5"/><circle cx="1311.04" cy="1122.42" r="1.5"/><circle cx="1313.2" cy="1121.88" r="1.5"/><circle cx="1315.35" cy="1121.56" r="1.5"/><circle cx="1309.43" cy="1127.49" r="1.5"/><circle cx="1301.88" cy="1127.81" r="1.5"/><circle cx="1311.04" cy="1128.89" r="1.5"/><circle cx="1314.28" cy="1127.81" r="1.5"/><circle cx="1317.51" cy="1127.81" r="1.5"/><circle cx="1315.35" cy="1130.51" r="1.5"/><circle cx="1316.43" cy="1132.66" r="1.5"/><circle cx="1316.97" cy="1134.82" r="1.5"/><circle cx="1317.51" cy="1136.97" r="1.5"/><circle cx="1319.13" cy="1138.05" r="1.5"/><circle cx="1332.6" cy="1128.89" r="1.5"/><circle cx="1333.68" cy="1130.51" r="1.5"/><circle cx="1332.06" cy="1132.12" r="1.5"/><circle cx="1328.83" cy="1132.12" r="1.5"/><circle cx="1336.37" cy="1131.59" r="1.5"/><circle cx="1340.14" cy="1131.05" r="1.5"/><circle cx="1340.68" cy="1133.74" r="1.5"/><circle cx="1339.61" cy="1134.82" r="1.5"/><circle cx="1330.98" cy="1134.28" r="1.5"/><circle cx="1329.91" cy="1135.9" r="1.5"/><circle cx="1334.76" cy="1136.97" r="1.5"/><circle cx="1335.29" cy="1138.59" r="1.5"/><circle cx="1328.29" cy="1138.59" r="1.5"/><circle cx="1302.96" cy="1136.97" r="1.5"/><circle cx="1300.8" cy="1139.67" r="1.5"/><circle cx="1299.19" cy="1140.21" r="1.5"/><circle cx="1311.04" cy="1138.59" r="1.5"/><circle cx="1311.58" cy="1140.75" r="1.5"/><circle cx="1311.04" cy="1142.36" r="1.5"/><circle cx="1314.28" cy="1142.9" r="1.5"/><circle cx="1315.89" cy="1143.44" r="1.5"/><circle cx="1323.44" cy="1142.36" r="1.5"/><circle cx="1323.98" cy="1144.52" r="1.5"/><circle cx="1325.06" cy="1146.14" r="1.5"/><circle cx="1327.75" cy="1145.6" r="1.5"/><circle cx="1329.37" cy="1145.06" r="1.5"/><circle cx="1332.6" cy="1143.23" r="1.5"/><circle cx="1341.55" cy="1142.58" r="1.5"/><circle cx="1303.71" cy="1144.63" r="1.5"/><circle cx="1322.9" cy="1150.45" r="1.5"/><circle cx="1325.59" cy="1149.69" r="1.5"/><circle cx="1312.98" cy="1151.96" r="1.5"/><circle cx="1304.9" cy="1153.79" r="1.5"/><circle cx="1340.25" cy="1154.33" r="1.5"/><circle cx="1314.82" cy="1159.07" r="1.5"/></g>
<g fill="#000"><circle cx="1413.01" cy="1142.35" r="1.5"/><circle cx="1423.62" cy="1143.11" r="1.5"/><circle cx="1429.11" cy="1143.3" r="1.5"/><circle cx="1435.17" cy="1143.86" r="1.5"/><circle cx="1441.8" cy="1145.19" r="1.5"/><circle cx="1408.66" cy="1146.33" r="1.5"/><circle cx="1445.59" cy="1148.03" r="1.5"/><circle cx="1419.07" cy="1149.92" r="1.5"/><circle cx="1427.79" cy="1150.3" r="1.5"/><circle cx="1434.41" cy="1150.87" r="1.5"/><circle cx="1443.12" cy="1150.3" r="1.5"/><circle cx="1450.32" cy="1150.49" r="1.5"/><circle cx="1407.71" cy="1152.2" r="1.5"/><circle cx="1410.55" cy="1152.76" r="1.5"/><circle cx="1432.71" cy="1152.76" r="1.5"/><circle cx="1435.17" cy="1152.76" r="1.5"/><circle cx="1433.28" cy="1157.12" r="1.5"/><circle cx="1411.5" cy="1165.45" r="1.5"/><circle cx="1416.23" cy="1166.97" r="1.5"/><circle cx="1411.5" cy="1168.48" r="1.5"/><circle cx="1436.88" cy="1167.73" r="1.5"/><circle cx="1449" cy="1167.54" r="1.5"/><circle cx="1450.51" cy="1173.6" r="1.5"/><circle cx="1445.59" cy="1174.54" r="1.5"/><circle cx="1440.85" cy="1175.68" r="1.5"/><circle cx="1431.95" cy="1177.57" r="1.5"/><circle cx="1437.44" cy="1179.47" r="1.5"/><circle cx="1416.04" cy="1179.85" r="1.5"/><circle cx="1427.6" cy="1180.22" r="1.5"/></g>
<g fill="#000"><circle cx="1546.5" cy="867.87" r="1.5"/><circle cx="1545.18" cy="895.9" r="1.5"/><circle cx="1547.83" cy="904.61" r="1.5"/><circle cx="1549.15" cy="907.45" r="1.5"/><circle cx="1555.59" cy="923.55" r="1.5"/><circle cx="1542.71" cy="926.2" r="1.5"/><circle cx="1543.85" cy="936.24" r="1.5"/><circle cx="1558.05" cy="936.24" r="1.5"/><circle cx="1556.35" cy="943.06" r="1.5"/><circle cx="1546.31" cy="949.68" r="1.5"/><circle cx="1532.49" cy="952.34" r="1.5"/><circle cx="1541.01" cy="959.72" r="1.5"/><circle cx="1533.25" cy="963.32" r="1.5"/><circle cx="1528.51" cy="966.73" r="1.5"/><circle cx="1538.17" cy="968.81" r="1.5"/><circle cx="1521.5" cy="987.18" r="1.5"/><circle cx="1540.63" cy="994" r="1.5"/><circle cx="1548.77" cy="994" r="1.5"/><circle cx="1546.88" cy="998.54" r="1.5"/><circle cx="1536.65" cy="1011.04" r="1.5"/></g>
<g fill="#000"><circle cx="1633.61" cy="855.19" r="1.5"/><circle cx="1652.74" cy="898.74" r="1.5"/><circle cx="1634.94" cy="905.94" r="1.5"/><circle cx="1641" cy="905.56" r="1.5"/><circle cx="1665.05" cy="905.18" r="1.5"/><circle cx="1642.33" cy="908.02" r="1.5"/><circle cx="1630.21" cy="910.86" r="1.5"/><circle cx="1640.81" cy="949.31" r="1.5"/><circle cx="1653.12" cy="951.2" r="1.5"/><circle cx="1660.5" cy="949.31" r="1.5"/></g>
<path d="M1104.9 847.7V837.7H1212.9V847.7" stroke="#505050" stroke-width="1.5" stroke-linejoin="round" fill="none"/>
<text x="1158.9" y="831.4" class="san" font-size="8.6" text-anchor="middle" font-weight="bold" fill="#111">***</text>
<path d="M1104.9 814.8V804.8H1320.9V814.8" stroke="#505050" stroke-width="1.5" stroke-linejoin="round" fill="none"/>
<text x="1212.9" y="798.5" class="san" font-size="8.6" text-anchor="middle" font-weight="bold" fill="#111">***</text>
<path d="M1104.9 781.7V771.7H1428.9V781.7" stroke="#505050" stroke-width="1.5" stroke-linejoin="round" fill="none"/>
<text x="1266.9" y="766.2" class="san" font-size="8.7" text-anchor="middle" fill="#1a1a1a" stroke="#1a1a1a" stroke-width="0.15">NS.</text>
<path d="M1104.9 748.9V738.9H1536.9V748.9" stroke="#505050" stroke-width="1.5" stroke-linejoin="round" fill="none"/>
<text x="1320.9" y="732.6" class="san" font-size="8.6" text-anchor="middle" font-weight="bold" fill="#111">***</text>
<path d="M1104.9 715.9V705.9H1644.9V715.9" stroke="#505050" stroke-width="1.5" stroke-linejoin="round" fill="none"/>
<text x="1374.9" y="699.6" class="san" font-size="8.6" text-anchor="middle" font-weight="bold" fill="#111">***</text>
<text x="1105.5" y="1219.8" class="ser" font-size="9.6" text-anchor="middle" fill="#1c1c1c" stroke="#1c1c1c" stroke-width="0.22">αα/--SEA</text>
<text x="1101.5" y="1232.7" class="ser" font-size="9.6" text-anchor="middle" fill="#1c1c1c" stroke="#1c1c1c" stroke-width="0.22">βHBB:c.-23A&gt;G/βN</text>
<text x="1211.3" y="1219.8" class="ser" font-size="9.6" text-anchor="middle" fill="#1c1c1c" stroke="#1c1c1c" stroke-width="0.22">αα/αα</text>
<text x="1212.8" y="1232.7" class="ser" font-size="9.6" text-anchor="middle" fill="#1c1c1c" stroke="#1c1c1c" stroke-width="0.22">βHBB:c.-23A&gt;G/βN</text>
<text x="1320.2" y="1219.8" class="ser" font-size="9.6" text-anchor="middle" fill="#1c1c1c" stroke="#1c1c1c" stroke-width="0.22">αα/αα</text>
<text x="1320.6" y="1232.7" class="ser" font-size="9.6" text-anchor="middle" fill="#1c1c1c" stroke="#1c1c1c" stroke-width="0.22">βN/βN</text>
<text x="1428.4" y="1219.8" class="ser" font-size="9.6" text-anchor="middle" fill="#1c1c1c" stroke="#1c1c1c" stroke-width="0.22">αα/--SEA</text>
<text x="1428" y="1232.7" class="ser" font-size="9.6" text-anchor="middle" fill="#1c1c1c" stroke="#1c1c1c" stroke-width="0.22">βN/βN</text>
<text x="1540.8" y="1219.8" class="ser" font-size="9.6" text-anchor="middle" fill="#1c1c1c" stroke="#1c1c1c" stroke-width="0.22">αα/--SEA</text>
<text x="1538.4" y="1232.2" class="ser" font-size="9.6" text-anchor="middle" fill="#1c1c1c" stroke="#1c1c1c" stroke-width="0.22">βHBB:c.126_129delCTTT/βN</text>
<text x="1647.4" y="1219.8" class="ser" font-size="9.6" text-anchor="middle" fill="#1c1c1c" stroke="#1c1c1c" stroke-width="0.22">αα/--SEA</text>
<text x="1648.5" y="1230.8" class="ser" font-size="9.6" text-anchor="middle" fill="#1c1c1c" stroke="#1c1c1c" stroke-width="0.22">βHBB:c.-78A&gt;G/βN</text>
<path d="M1743.75 793.18V830.62" stroke="#505050" stroke-width="1.4" fill="none"/>
<rect x="1716.4" y="800.2" width="54.7" height="23.4" fill="#C77C7C" stroke="#1e1e1e" stroke-opacity="0.82" stroke-width="1.1"/>
<path d="M1716.4 811.9H1771.1" stroke="#1e1e1e" stroke-opacity="0.78" stroke-width="1.2" fill="none"/>
<text x="1841" y="806.3" class="ser" font-size="9.6" text-anchor="middle" fill="#1c1c1c" stroke="#1c1c1c" stroke-width="0.22">αα/--SEA</text>
<text x="1837" y="818.9" class="ser" font-size="9.6" text-anchor="middle" fill="#1c1c1c" stroke="#1c1c1c" stroke-width="0.22">βHBB:c.-23A&gt;G/βN</text>
<path d="M1743.75 840.08V877.52" stroke="#505050" stroke-width="1.4" fill="none"/>
<rect x="1716.4" y="847.1" width="54.7" height="23.4" fill="#5C5C33" stroke="#1e1e1e" stroke-opacity="0.82" stroke-width="1.1"/>
<path d="M1716.4 858.8H1771.1" stroke="#1e1e1e" stroke-opacity="0.78" stroke-width="1.2" fill="none"/>
<text x="1835.5" y="847.4" class="ser" font-size="9.6" text-anchor="middle" fill="#1c1c1c" stroke="#1c1c1c" stroke-width="0.22">αα/αα</text>
<text x="1837" y="860.1" class="ser" font-size="9.6" text-anchor="middle" fill="#1c1c1c" stroke="#1c1c1c" stroke-width="0.22">βHBB:c.-23A&gt;G/βN</text>
<path d="M1743.75 887.28V924.72" stroke="#505050" stroke-width="1.4" fill="none"/>
<rect x="1716.4" y="894.3" width="54.7" height="23.4" fill="#47E047" stroke="#1e1e1e" stroke-opacity="0.82" stroke-width="1.1"/>
<path d="M1716.4 906H1771.1" stroke="#1e1e1e" stroke-opacity="0.78" stroke-width="1.2" fill="none"/>
<text x="1841.7" y="899.6" class="ser" font-size="9.6" text-anchor="middle" fill="#1c1c1c" stroke="#1c1c1c" stroke-width="0.22">αα/αα</text>
<text x="1842.1" y="912.6" class="ser" font-size="9.6" text-anchor="middle" fill="#1c1c1c" stroke="#1c1c1c" stroke-width="0.22">βN/βN</text>
<path d="M1743.75 934.18V971.62" stroke="#505050" stroke-width="1.4" fill="none"/>
<rect x="1716.4" y="941.2" width="54.7" height="23.4" fill="#358585" stroke="#1e1e1e" stroke-opacity="0.82" stroke-width="1.1"/>
<path d="M1716.4 952.9H1771.1" stroke="#1e1e1e" stroke-opacity="0.78" stroke-width="1.2" fill="none"/>
<text x="1836.9" y="946.7" class="ser" font-size="9.6" text-anchor="middle" fill="#1c1c1c" stroke="#1c1c1c" stroke-width="0.22">αα/--SEA</text>
<text x="1836.8" y="959.8" class="ser" font-size="9.6" text-anchor="middle" fill="#1c1c1c" stroke="#1c1c1c" stroke-width="0.22">βN/βN</text>
<path d="M1743.75 980.98V1018.42" stroke="#505050" stroke-width="1.4" fill="none"/>
<rect x="1716.4" y="988" width="54.7" height="23.4" fill="#4343AB" stroke="#1e1e1e" stroke-opacity="0.82" stroke-width="1.1"/>
<path d="M1716.4 999.7H1771.1" stroke="#1e1e1e" stroke-opacity="0.78" stroke-width="1.2" fill="none"/>
<text x="1839.3" y="993.6" class="ser" font-size="9.6" text-anchor="middle" fill="#1c1c1c" stroke="#1c1c1c" stroke-width="0.22">αα/--SEA</text>
<text x="1837.2" y="1006.9" class="ser" font-size="9.6" text-anchor="middle" fill="#1c1c1c" stroke="#1c1c1c" stroke-width="0.22">βHBB:c.126_129delCTTT/βN</text>
<path d="M1743.75 1027.88V1065.32" stroke="#505050" stroke-width="1.4" fill="none"/>
<rect x="1716.4" y="1034.9" width="54.7" height="23.4" fill="#D133D1" stroke="#1e1e1e" stroke-opacity="0.82" stroke-width="1.1"/>
<path d="M1716.4 1046.6H1771.1" stroke="#1e1e1e" stroke-opacity="0.78" stroke-width="1.2" fill="none"/>
<text x="1836" y="1041.6" class="ser" font-size="9.6" text-anchor="middle" fill="#1c1c1c" stroke="#1c1c1c" stroke-width="0.22">αα/--SEA</text>
<text x="1837" y="1052.9" class="ser" font-size="9.6" text-anchor="middle" fill="#1c1c1c" stroke="#1c1c1c" stroke-width="0.22">βHBB:c.-78A&gt;G/βN</text>
</svg>
</body>
</html>
